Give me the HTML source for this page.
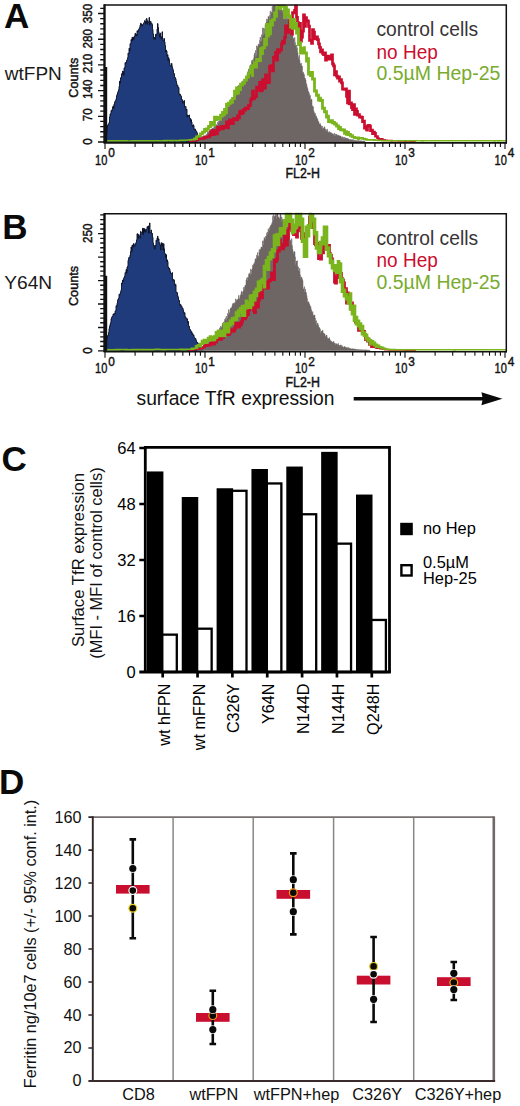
<!DOCTYPE html>
<html><head><meta charset="utf-8"><title>Figure</title>
<style>
html,body{margin:0;padding:0;background:#fff;}
body{width:520px;height:1106px;overflow:hidden;}
svg{display:block;}
text{font-family:"Liberation Sans",sans-serif;}
</style></head><body>
<svg width="520" height="1106" viewBox="0 0 520 1106">
<rect width="520" height="1106" fill="#fff"/>
<g id="panelA">
<path d="M105.5,142.0L105.5,140.9H106.0V135.3H106.5V132.4H107.0V127.5H107.5V125.1H108.0V124.8H108.5V123.8H109.0V122.3H109.5V116.9H110.0V114.0H110.5V113.7H111.0V110.6H111.5V111.1H112.0V109.4H112.5V107.1H113.0V105.9H113.5V108.8H114.0V104.0H114.5V102.3H115.0V100.9H115.5V100.6H116.0V98.6H116.5V95.8H117.0V94.1H117.5V92.6H118.0V91.2H118.5V89.8H119.0V86.4H119.5V81.2H120.0V83.3H120.5V77.8H121.0V78.0H121.5V73.8H122.0V74.4H122.5V71.1H123.0V71.4H123.5V75.4H124.0V67.9H124.5V68.0H125.0V62.6H125.5V63.0H126.0V63.2H126.5V60.3H127.0V59.7H127.5V57.7H128.0V53.0H128.5V53.5H129.0V48.2H129.5V51.0H130.0V43.6H130.5V43.5H131.0V39.5H131.5V41.0H132.0V37.2H132.5V40.1H133.0V37.1H133.5V39.5H134.0V37.5H134.5V35.9H135.0V33.3H135.5V35.8H136.0V34.3H136.5V35.9H137.0V30.7H137.5V31.9H138.0V30.9H138.5V29.5H139.0V28.5H139.5V27.6H140.0V25.1H140.5V23.3H141.0V23.8H141.5V25.2H142.0V26.4H142.5V24.6H143.0V24.3H143.5V23.1H144.0V22.4H144.5V20.7H145.0V21.5H145.5V23.9H146.0V19.2H146.5V18.5H147.0V24.5H147.5V20.8H148.0V22.5H148.5V22.1H149.0V17.5H149.5V25.4H150.0V23.8H150.5V21.3H151.0V23.6H151.5V23.3H152.0V24.4H152.5V29.4H153.0V33.8H153.5V38.7H154.0V39.2H154.5V37.3H155.0V39.4H155.5V34.4H156.0V35.6H156.5V34.1H157.0V29.0H157.5V23.6H158.0V27.4H158.5V31.7H159.0V34.1H159.5V37.4H160.0V33.1H160.5V36.4H161.0V38.9H161.5V36.8H162.0V31.8H162.5V38.1H163.0V40.9H163.5V40.4H164.0V38.6H164.5V41.9H165.0V45.5H165.5V52.0H166.0V50.2H166.5V51.2H167.0V56.1H167.5V54.8H168.0V60.6H168.5V57.7H169.0V59.7H169.5V63.2H170.0V65.7H170.5V65.5H171.0V66.1H171.5V63.4H172.0V66.7H172.5V68.5H173.0V70.2H173.5V73.8H174.0V73.7H174.5V77.3H175.0V77.6H175.5V78.7H176.0V81.2H176.5V83.5H177.0V85.9H177.5V85.5H178.0V87.6H178.5V87.5H179.0V93.8H179.5V95.2H180.0V94.4H180.5V95.6H181.0V96.2H181.5V99.0H182.0V99.8H182.5V103.4H183.0V101.4H183.5V101.4H184.0V100.6H184.5V107.4H185.0V107.3H185.5V106.4H186.0V110.2H186.5V109.2H187.0V116.9H187.5V115.1H188.0V115.7H188.5V116.0H189.0V115.0H189.5V118.6H190.0V118.3H190.5V121.7H191.0V119.7H191.5V122.0H192.0V125.3H192.5V126.7H193.0V124.8H193.5V125.5H194.0V128.8H194.5V129.8H195.0V129.1H195.5V130.3H196.0V131.3H196.5V131.8H197.0V133.2H197.5V135.7H198.0V136.1H198.5V138.0H199.0V137.4H199.5V137.9H200.0V137.9H200.5V138.8H201.0V138.8H201.5V139.2H202.0V140.3H202.5V140.8H203.0V141.1V142.0Z" fill="#1f3b7c" stroke="#0a0f22" stroke-width="0.9" stroke-linejoin="miter"/>
<path d="M197.5,142.0L197.5,140.8H198.0V140.7H198.5V140.2H199.0V139.7H199.5V139.8H200.0V139.1H200.5V138.6H201.0V139.3H201.5V137.6H202.0V136.7H202.5V136.2H203.0V136.4H203.5V136.9H204.0V136.7H204.5V136.4H205.0V136.5H205.5V135.9H206.0V134.6H206.5V134.7H207.0V133.6H207.5V132.0H208.0V132.8H208.5V131.6H209.0V130.8H209.5V132.5H210.0V130.8H210.5V129.2H211.0V129.1H211.5V131.2H212.0V128.1H212.5V128.7H213.0V128.2H213.5V127.7H214.0V127.3H214.5V125.8H215.0V125.4H215.5V125.3H216.0V124.7H216.5V125.4H217.0V125.7H217.5V122.3H218.0V123.4H218.5V121.0H219.0V120.8H219.5V120.7H220.0V120.6H220.5V119.3H221.0V116.1H221.5V120.4H222.0V117.8H222.5V116.8H223.0V117.4H223.5V114.6H224.0V112.5H224.5V113.9H225.0V112.8H225.5V110.0H226.0V111.3H226.5V109.7H227.0V106.6H227.5V109.8H228.0V106.7H228.5V103.7H229.0V105.1H229.5V103.7H230.0V104.1H230.5V99.6H231.0V102.3H231.5V101.2H232.0V99.9H232.5V98.8H233.0V99.0H233.5V97.1H234.0V95.2H234.5V92.7H235.0V94.9H235.5V94.2H236.0V92.6H236.5V91.8H237.0V92.3H237.5V86.3H238.0V90.6H238.5V85.3H239.0V89.5H239.5V90.2H240.0V91.0H240.5V86.2H241.0V87.1H241.5V85.5H242.0V81.0H242.5V85.6H243.0V83.6H243.5V83.1H244.0V80.2H244.5V80.6H245.0V79.5H245.5V80.4H246.0V77.3H246.5V82.0H247.0V73.3H247.5V72.5H248.0V71.7H248.5V69.1H249.0V72.6H249.5V69.7H250.0V64.8H250.5V66.4H251.0V67.4H251.5V60.7H252.0V62.3H252.5V59.9H253.0V63.7H253.5V58.2H254.0V54.9H254.5V53.0H255.0V56.7H255.5V50.5H256.0V55.4H256.5V45.9H257.0V47.8H257.5V46.7H258.0V44.5H258.5V44.2H259.0V44.8H259.5V40.4H260.0V37.2H260.5V42.1H261.0V41.0H261.5V34.8H262.0V35.8H262.5V27.9H263.0V35.0H263.5V28.2H264.0V28.8H264.5V34.0H265.0V24.6H265.5V26.3H266.0V22.4H266.5V19.2H267.0V19.5H267.5V21.7H268.0V16.5H268.5V17.0H269.0V18.9H269.5V15.4H270.0V11.2H270.5V16.9H271.0V12.1H271.5V14.0H272.0V6.4H272.5V12.8H273.0V5.5H273.5V5.5H274.0V5.7H274.5V5.5H275.0V6.3H275.5V5.5H276.0V7.4H276.5V9.2H277.0V5.5H277.5V5.5H278.0V5.5H278.5V8.2H279.0V8.2H279.5V5.7H280.0V5.5H280.5V7.6H281.0V10.6H281.5V6.8H282.0V12.4H282.5V10.2H283.0V10.8H283.5V9.5H284.0V15.5H284.5V13.2H285.0V10.4H285.5V17.2H286.0V15.1H286.5V20.0H287.0V18.9H287.5V18.1H288.0V21.3H288.5V20.8H289.0V21.4H289.5V25.1H290.0V28.6H290.5V28.4H291.0V29.7H291.5V30.2H292.0V34.4H292.5V35.3H293.0V38.5H293.5V38.7H294.0V44.3H294.5V37.5H295.0V42.5H295.5V45.8H296.0V48.6H296.5V45.2H297.0V47.9H297.5V52.5H298.0V56.8H298.5V58.9H299.0V55.3H299.5V60.4H300.0V64.3H300.5V63.7H301.0V63.3H301.5V65.7H302.0V66.3H302.5V73.1H303.0V72.2H303.5V73.7H304.0V74.7H304.5V78.0H305.0V78.4H305.5V80.0H306.0V83.3H306.5V84.7H307.0V87.5H307.5V88.7H308.0V92.1H308.5V91.7H309.0V93.8H309.5V95.4H310.0V95.4H310.5V100.3H311.0V99.2H311.5V99.5H312.0V105.7H312.5V106.6H313.0V106.7H313.5V110.8H314.0V112.6H314.5V114.1H315.0V113.5H315.5V116.3H316.0V115.9H316.5V117.5H317.0V118.6H317.5V119.4H318.0V122.0H318.5V121.6H319.0V124.0H319.5V124.0H320.0V123.7H320.5V125.1H321.0V126.2H321.5V127.2H322.0V126.2H322.5V128.9H323.0V128.0H323.5V129.1H324.0V126.8H324.5V127.5H325.0V130.2H325.5V129.2H326.0V130.2H326.5V131.3H327.0V129.2H327.5V131.2H328.0V132.9H328.5V132.1H329.0V131.7H329.5V132.4H330.0V132.2H330.5V133.1H331.0V133.9H331.5V132.8H332.0V133.8H332.5V133.8H333.0V134.4H333.5V134.7H334.0V133.3H334.5V135.4H335.0V135.4H335.5V134.0H336.0V134.9H336.5V134.2H337.0V135.3H337.5V136.1H338.0V135.1H338.5V135.6H339.0V135.7H339.5V136.0H340.0V136.1H340.5V136.1H341.0V137.4H341.5V137.0H342.0V136.8H342.5V138.2H343.0V137.3H343.5V138.4H344.0V137.2H344.5V138.9H345.0V138.0H345.5V137.9H346.0V138.7H346.5V138.0H347.0V138.3H347.5V139.0H348.0V138.8H348.5V139.3H349.0V139.4H349.5V139.5H350.0V139.6H350.5V139.8H351.0V139.7H351.5V140.1H352.0V140.2H352.5V139.5H353.0V139.7H353.5V140.6H354.0V140.2H354.5V140.4H355.0V140.5H355.5V140.6H356.0V141.0H356.5V140.5H357.0V140.7H357.5V140.7H358.0V140.6H358.5V140.7H359.0V140.8H359.5V140.9H360.0V141.0H360.5V140.7H361.0V140.8H361.5V141.2H362.0V141.0H362.5V141.2H363.0V141.1H363.5V141.1H364.0V141.4H364.5V141.1H365.0V141.2V142.0Z" fill="#6d6664" stroke="#6d6664" stroke-width="0.5"/>
<path d="M189.15,140.6h2.70v1.3h-2.70zM190.15,140.4h2.70v1.6h-2.70zM191.15,140.2h2.70v1.6h-2.70zM192.15,140.2h2.70v1.5h-2.70zM193.15,140.2h2.70v1.4h-2.70zM194.15,139.8h2.70v1.8h-2.70zM195.15,139.5h2.70v1.8h-2.70zM196.15,138.9h2.70v2.1h-2.70zM197.15,138.3h2.70v2.2h-2.70zM198.15,137.8h2.70v2.2h-2.70zM199.15,137.8h2.70v1.7h-2.70zM200.15,137.3h2.70v2.2h-2.70zM201.15,137.3h2.70v2.4h-2.70zM202.15,137.5h2.70v2.2h-2.70zM203.15,135.4h2.70v4.0h-2.70zM204.15,135.4h2.70v3.4h-2.70zM205.15,135.4h2.70v3.4h-2.70zM206.15,135.4h2.70v2.9h-2.70zM207.15,136.2h2.70v2.0h-2.70zM208.15,134.3h2.70v4.0h-2.70zM209.15,130.2h2.70v6.6h-2.70zM210.15,130.2h2.70v5.6h-2.70zM211.15,129.1h2.70v6.7h-2.70zM212.15,129.1h2.70v7.0h-2.70zM213.15,129.2h2.70v6.9h-2.70zM214.15,129.2h2.70v3.0h-2.70zM215.15,129.5h2.70v5.7h-2.70zM216.15,125.8h2.70v9.4h-2.70zM217.15,125.8h2.70v5.4h-2.70zM218.15,125.9h2.70v5.3h-2.70zM219.15,125.9h2.70v3.3h-2.70zM220.15,125.3h2.70v3.9h-2.70zM221.15,125.3h2.70v5.0h-2.70zM222.15,125.1h2.70v5.2h-2.70zM223.15,125.1h2.70v3.5h-2.70zM224.15,125.8h2.70v2.9h-2.70zM225.15,120.6h2.70v8.1h-2.70zM226.15,120.6h2.70v8.5h-2.70zM227.15,122.2h2.70v7.0h-2.70zM228.15,118.4h2.70v6.6h-2.70zM229.15,118.4h2.70v4.2h-2.70zM230.15,119.7h2.70v5.4h-2.70zM231.15,121.9h2.70v3.2h-2.70zM232.15,117.3h2.70v7.4h-2.70zM233.15,117.3h2.70v3.6h-2.70zM234.15,117.5h2.70v3.5h-2.70zM235.15,117.5h2.70v3.8h-2.70zM236.15,114.5h2.70v6.7h-2.70zM237.15,114.5h2.70v4.7h-2.70zM238.15,110.6h2.70v8.6h-2.70zM239.15,109.8h2.70v3.6h-2.70zM240.15,109.8h2.70v5.3h-2.70zM241.15,111.3h2.70v3.8h-2.70zM242.15,108.0h2.70v6.1h-2.70zM243.15,108.0h2.70v3.5h-2.70zM244.15,106.4h2.70v5.0h-2.70zM245.15,106.4h2.70v3.4h-2.70zM246.15,107.0h2.70v2.9h-2.70zM247.15,104.1h2.70v5.8h-2.70zM248.15,104.0h2.70v2.9h-2.70zM249.15,98.8h2.70v8.0h-2.70zM250.15,96.9h2.70v4.7h-2.70zM251.15,89.7h2.70v10.1h-2.70zM252.15,89.7h2.70v10.5h-2.70zM253.15,94.8h2.70v5.3h-2.70zM254.15,94.8h2.70v3.2h-2.70zM255.15,85.7h2.70v12.4h-2.70zM256.15,85.7h2.70v6.1h-2.70zM257.15,87.2h2.70v4.6h-2.70zM258.15,81.1h2.70v8.9h-2.70zM259.15,81.1h2.70v11.1h-2.70zM260.15,89.1h2.70v3.1h-2.70zM261.15,78.2h2.70v13.6h-2.70zM262.15,78.2h2.70v7.8h-2.70zM263.15,83.2h2.70v6.3h-2.70zM264.15,73.5h2.70v16.0h-2.70zM265.15,73.5h2.70v9.7h-2.70zM266.15,80.5h2.70v3.5h-2.70zM267.15,80.7h2.70v3.3h-2.70zM268.15,65.3h2.70v18.2h-2.70zM269.15,64.3h2.70v3.8h-2.70zM270.15,64.3h2.70v6.0h-2.70zM271.15,67.6h2.70v4.7h-2.70zM272.15,56.0h2.70v16.3h-2.70zM273.15,55.5h2.70v3.3h-2.70zM274.15,51.1h2.70v7.2h-2.70zM275.15,51.1h2.70v10.3h-2.70zM276.15,48.2h2.70v13.2h-2.70zM277.15,48.2h2.70v5.6h-2.70zM278.15,48.8h2.70v5.0h-2.70zM279.15,48.8h2.70v2.8h-2.70zM280.15,42.5h2.70v9.0h-2.70zM281.15,39.7h2.70v5.6h-2.70zM282.15,39.7h2.70v4.7h-2.70zM283.15,35.9h2.70v8.5h-2.70zM284.15,24.6h2.70v14.1h-2.70zM285.15,24.6h2.70v4.0h-2.70zM286.15,25.8h2.70v7.9h-2.70zM287.15,24.2h2.70v9.5h-2.70zM288.15,18.5h2.70v8.5h-2.70zM289.15,18.5h2.70v3.0h-2.70zM290.15,18.7h2.70v16.9h-2.70zM291.15,11.2h2.70v24.4h-2.70zM292.15,11.2h2.70v3.0h-2.70zM293.15,9.1h2.70v5.2h-2.70zM294.15,4.8h2.70v7.1h-2.70zM295.15,4.8h2.70v13.9h-2.70zM296.15,15.9h2.70v8.1h-2.70zM297.15,21.2h2.70v9.0h-2.70zM298.15,22.1h2.70v8.0h-2.70zM299.15,22.1h2.70v20.4h-2.70zM300.15,35.7h2.70v6.8h-2.70zM301.15,29.8h2.70v8.7h-2.70zM302.15,13.5h2.70v19.1h-2.70zM303.15,13.5h2.70v14.2h-2.70zM304.15,16.3h2.70v11.4h-2.70zM305.15,16.3h2.70v5.7h-2.70zM306.15,19.2h2.70v3.4h-2.70zM307.15,19.8h2.70v7.9h-2.70zM308.15,24.8h2.70v16.9h-2.70zM309.15,38.7h2.70v3.0h-2.70zM310.15,38.7h2.70v6.0h-2.70zM311.15,28.2h2.70v16.6h-2.70zM312.15,28.2h2.70v5.3h-2.70zM313.15,30.7h2.70v9.4h-2.70zM314.15,36.4h2.70v3.8h-2.70zM315.15,35.5h2.70v3.6h-2.70zM316.15,35.5h2.70v5.5h-2.70zM317.15,38.2h2.70v7.1h-2.70zM318.15,42.5h2.70v6.2h-2.70zM319.15,45.9h2.70v7.4h-2.70zM320.15,48.4h2.70v4.9h-2.70zM321.15,48.4h2.70v6.3h-2.70zM322.15,51.9h2.70v4.0h-2.70zM323.15,51.4h2.70v4.5h-2.70zM324.15,51.4h2.70v10.0h-2.70zM325.15,57.7h2.70v3.7h-2.70zM326.15,54.8h2.70v5.7h-2.70zM327.15,54.8h2.70v3.9h-2.70zM328.15,55.9h2.70v4.5h-2.70zM329.15,55.3h2.70v5.1h-2.70zM330.15,53.6h2.70v4.5h-2.70zM331.15,53.6h2.70v11.7h-2.70zM332.15,62.5h2.70v4.8h-2.70zM333.15,64.5h2.70v11.8h-2.70zM334.15,70.2h2.70v6.1h-2.70zM335.15,70.2h2.70v7.3h-2.70zM336.15,74.7h2.70v4.8h-2.70zM337.15,75.6h2.70v3.9h-2.70zM338.15,75.6h2.70v7.0h-2.70zM339.15,78.2h2.70v4.4h-2.70zM340.15,78.2h2.70v6.0h-2.70zM341.15,81.4h2.70v9.2h-2.70zM342.15,87.8h2.70v2.8h-2.70zM343.15,87.8h2.70v2.9h-2.70zM344.15,87.5h2.70v3.3h-2.70zM345.15,87.5h2.70v10.3h-2.70zM346.15,94.9h2.70v9.4h-2.70zM347.15,89.8h2.70v14.6h-2.70zM348.15,89.8h2.70v15.4h-2.70zM349.15,101.6h2.70v3.5h-2.70zM350.15,101.6h2.70v7.5h-2.70zM351.15,106.3h2.70v4.6h-2.70zM352.15,103.3h2.70v7.6h-2.70zM353.15,103.3h2.70v12.4h-2.70zM354.15,107.6h2.70v8.1h-2.70zM355.15,107.6h2.70v5.2h-2.70zM356.15,110.0h2.70v6.6h-2.70zM357.15,113.3h2.70v3.3h-2.70zM358.15,113.3h2.70v5.1h-2.70zM359.15,115.4h2.70v3.0h-2.70zM360.15,115.4h2.70v3.4h-2.70zM361.15,116.0h2.70v7.1h-2.70zM362.15,119.7h2.70v3.4h-2.70zM363.15,119.7h2.70v9.7h-2.70zM364.15,125.3h2.70v4.1h-2.70zM365.15,125.3h2.70v6.0h-2.70zM366.15,124.5h2.70v6.9h-2.70zM367.15,124.0h2.70v3.2h-2.70zM368.15,124.0h2.70v3.6h-2.70zM369.15,124.8h2.70v7.1h-2.70zM370.15,128.7h2.70v3.2h-2.70zM371.15,128.7h2.70v6.4h-2.70zM372.15,130.7h2.70v4.3h-2.70zM373.15,130.7h2.70v3.9h-2.70zM374.15,132.0h2.70v5.5h-2.70zM375.15,135.2h2.70v2.1h-2.70zM376.15,135.2h2.70v4.0h-2.70zM377.15,137.3h2.70v2.5h-2.70zM378.15,138.0h2.70v2.0h-2.70zM379.15,137.9h2.70v2.2h-2.70zM380.15,137.9h2.70v2.1h-2.70zM381.15,138.3h2.70v3.0h-2.70zM382.15,139.1h2.70v2.2h-2.70zM383.15,139.1h2.70v1.9h-2.70zM384.15,139.4h2.70v1.6h-2.70zM385.15,139.6h2.70v1.6h-2.70zM386.15,139.8h2.70v1.5h-2.70zM387.15,139.9h2.70v1.4h-2.70zM388.15,139.9h2.70v1.4h-2.70zM389.15,139.7h2.70v1.6h-2.70zM390.15,139.7h2.70v2.0h-2.70zM391.15,140.0h2.70v1.6h-2.70zM392.15,139.9h2.70v1.5h-2.70zM393.15,139.9h2.70v1.7h-2.70zM394.15,140.2h2.70v1.4h-2.70zM395.15,140.0h2.70v1.6h-2.70zM396.15,140.0h2.70v1.5h-2.70zM397.15,140.1h2.70v1.6h-2.70zM398.15,140.3h2.70v1.4h-2.70zM399.15,140.3h2.70v1.4h-2.70zM400.15,140.3h2.70v1.4h-2.70zM401.15,140.3h2.70v1.4h-2.70zM402.15,140.3h2.70v1.4h-2.70zM403.15,140.3h2.70v1.5h-2.70zM404.15,140.4h2.70v1.5h-2.70zM405.15,140.4h2.70v1.4h-2.70zM406.15,140.4h2.70v1.4h-2.70zM407.15,140.5h2.70v1.3h-2.70zM408.15,140.4h2.70v1.4h-2.70zM409.15,140.4h2.70v1.6h-2.70zM410.15,140.6h2.70v1.4h-2.70zM411.15,140.6h2.70v1.4h-2.70zM412.15,140.7h2.70v1.3h-2.70zM413.15,140.6h2.70v1.4h-2.70z" fill="#cb0e2f"/>
<path d="M105.10,140.2h2.80v1.4h-2.80zM105.10,140.0h2.80v1.5h-2.80zM107.10,140.0h2.80v1.4h-2.80zM107.10,140.0h2.80v1.5h-2.80zM109.10,140.1h2.80v1.4h-2.80zM109.10,140.1h2.80v1.4h-2.80zM111.10,140.0h2.80v1.5h-2.80zM111.10,140.0h2.80v1.5h-2.80zM113.10,140.1h2.80v1.5h-2.80zM113.10,140.0h2.80v1.6h-2.80zM115.10,140.0h2.80v1.6h-2.80zM115.10,140.1h2.80v1.4h-2.80zM117.10,140.1h2.80v1.4h-2.80zM117.10,140.1h2.80v1.4h-2.80zM119.10,140.1h2.80v1.5h-2.80zM119.10,140.1h2.80v1.4h-2.80zM121.10,140.1h2.80v1.5h-2.80zM121.10,140.1h2.80v1.5h-2.80zM123.10,140.1h2.80v1.4h-2.80zM123.10,140.0h2.80v1.5h-2.80zM125.10,140.0h2.80v1.5h-2.80zM125.10,140.1h2.80v1.5h-2.80zM127.10,140.2h2.80v1.4h-2.80zM127.10,140.2h2.80v1.4h-2.80zM129.10,140.2h2.80v1.4h-2.80zM129.10,140.2h2.80v1.4h-2.80zM131.10,140.1h2.80v1.4h-2.80zM131.10,140.1h2.80v1.4h-2.80zM133.10,140.1h2.80v1.5h-2.80zM133.10,140.1h2.80v1.5h-2.80zM135.10,140.1h2.80v1.5h-2.80zM135.10,140.0h2.80v1.5h-2.80zM137.10,140.0h2.80v1.4h-2.80zM137.10,140.0h2.80v1.5h-2.80zM139.10,140.1h2.80v1.4h-2.80zM139.10,140.0h2.80v1.4h-2.80zM141.10,140.0h2.80v1.4h-2.80zM141.10,140.1h2.80v1.4h-2.80zM143.10,140.1h2.80v1.4h-2.80zM143.10,140.1h2.80v1.4h-2.80zM145.10,140.1h2.80v1.5h-2.80zM145.10,140.1h2.80v1.5h-2.80zM147.10,140.1h2.80v1.4h-2.80zM147.10,140.1h2.80v1.4h-2.80zM149.10,140.1h2.80v1.5h-2.80zM149.10,140.1h2.80v1.5h-2.80zM151.10,140.1h2.80v1.4h-2.80zM151.10,140.1h2.80v1.4h-2.80zM153.10,140.0h2.80v1.4h-2.80zM153.10,140.0h2.80v1.4h-2.80zM155.10,140.0h2.80v1.4h-2.80zM155.10,140.0h2.80v1.4h-2.80zM157.10,140.0h2.80v1.4h-2.80zM157.10,140.0h2.80v1.4h-2.80zM159.10,140.0h2.80v1.4h-2.80zM159.10,139.9h2.80v1.5h-2.80zM161.10,139.9h2.80v1.5h-2.80zM161.10,139.9h2.80v1.5h-2.80zM163.10,139.9h2.80v1.5h-2.80zM163.10,139.8h2.80v1.5h-2.80zM165.10,139.8h2.80v1.5h-2.80zM165.10,139.9h2.80v1.5h-2.80zM167.10,139.9h2.80v1.4h-2.80zM167.10,139.8h2.80v1.5h-2.80zM169.10,139.8h2.80v1.5h-2.80zM169.10,139.9h2.80v1.5h-2.80zM171.10,139.7h2.80v1.8h-2.80zM171.10,139.7h2.80v1.6h-2.80zM173.10,139.9h2.80v1.4h-2.80zM173.10,139.8h2.80v1.5h-2.80zM175.10,139.7h2.80v1.5h-2.80zM175.10,139.7h2.80v1.7h-2.80zM177.10,139.8h2.80v1.6h-2.80zM177.10,139.8h2.80v1.5h-2.80zM179.10,139.7h2.80v1.6h-2.80zM179.10,139.6h2.80v1.5h-2.80zM181.10,139.6h2.80v1.6h-2.80zM181.10,139.7h2.80v1.5h-2.80zM183.10,139.6h2.80v1.6h-2.80zM183.10,139.5h2.80v1.5h-2.80zM185.10,139.5h2.80v1.5h-2.80zM185.10,139.4h2.80v1.7h-2.80zM187.10,139.2h2.80v1.6h-2.80zM187.10,139.2h2.80v1.6h-2.80zM189.10,139.2h2.80v1.5h-2.80zM189.10,139.0h2.80v1.7h-2.80zM191.10,138.7h2.80v1.9h-2.80zM191.10,138.7h2.80v1.7h-2.80zM193.10,138.2h2.80v2.2h-2.80zM193.10,137.5h2.80v2.4h-2.80zM195.10,137.5h2.80v2.5h-2.80zM195.10,135.6h2.80v4.5h-2.80zM197.10,135.6h2.80v2.1h-2.80zM197.10,134.8h2.80v2.9h-2.80zM199.10,133.5h2.80v3.6h-2.80zM199.10,132.5h2.80v3.3h-2.80zM201.10,132.0h2.80v3.0h-2.80zM201.10,130.8h2.80v3.8h-2.80zM203.10,128.3h2.80v5.3h-2.80zM203.10,128.1h2.80v3.2h-2.80zM205.10,128.1h2.80v4.0h-2.80zM205.10,127.5h2.80v4.6h-2.80zM207.10,125.1h2.80v5.3h-2.80zM207.10,125.0h2.80v3.1h-2.80zM209.10,122.6h2.80v5.4h-2.80zM209.10,121.1h2.80v4.5h-2.80zM211.10,121.1h2.80v3.1h-2.80zM211.10,121.2h2.80v5.3h-2.80zM213.10,119.0h2.80v7.5h-2.80zM213.10,115.8h2.80v6.2h-2.80zM215.10,115.8h2.80v5.1h-2.80zM215.10,116.0h2.80v4.9h-2.80zM217.10,116.0h2.80v4.5h-2.80zM217.10,117.5h2.80v3.0h-2.80zM219.10,113.8h2.80v6.7h-2.80zM219.10,113.7h2.80v3.1h-2.80zM221.10,110.9h2.80v5.8h-2.80zM221.10,110.9h2.80v5.4h-2.80zM223.10,108.0h2.80v8.3h-2.80zM223.10,107.9h2.80v3.1h-2.80zM225.10,107.9h2.80v6.3h-2.80zM225.10,102.8h2.80v11.3h-2.80zM227.10,102.8h2.80v3.8h-2.80zM227.10,101.7h2.80v5.0h-2.80zM229.10,101.3h2.80v3.4h-2.80zM229.10,99.8h2.80v4.5h-2.80zM231.10,99.8h2.80v3.9h-2.80zM231.10,96.9h2.80v6.8h-2.80zM233.10,95.7h2.80v4.2h-2.80zM233.10,89.8h2.80v8.9h-2.80zM235.10,89.8h2.80v5.5h-2.80zM235.10,86.5h2.80v8.8h-2.80zM237.10,86.5h2.80v7.9h-2.80zM237.10,86.6h2.80v7.7h-2.80zM239.10,86.6h2.80v4.2h-2.80zM239.10,82.8h2.80v8.1h-2.80zM241.10,82.8h2.80v3.6h-2.80zM241.10,81.7h2.80v4.7h-2.80zM243.10,81.7h2.80v3.0h-2.80zM243.10,78.7h2.80v6.0h-2.80zM245.10,76.1h2.80v5.5h-2.80zM245.10,75.5h2.80v3.6h-2.80zM247.10,73.5h2.80v5.0h-2.80zM247.10,71.5h2.80v5.0h-2.80zM249.10,69.1h2.80v5.5h-2.80zM249.10,66.3h2.80v5.8h-2.80zM251.10,66.3h2.80v10.8h-2.80zM251.10,64.3h2.80v12.8h-2.80zM253.10,61.2h2.80v6.1h-2.80zM253.10,61.2h2.80v7.4h-2.80zM255.10,61.4h2.80v7.1h-2.80zM255.10,58.1h2.80v6.3h-2.80zM257.10,58.1h2.80v4.2h-2.80zM257.10,58.9h2.80v3.4h-2.80zM259.10,47.2h2.80v14.7h-2.80zM259.10,47.2h2.80v7.9h-2.80zM261.10,46.7h2.80v8.3h-2.80zM261.10,46.3h2.80v3.5h-2.80zM263.10,38.0h2.80v11.3h-2.80zM263.10,38.0h2.80v8.3h-2.80zM265.10,38.9h2.80v7.3h-2.80zM265.10,22.9h2.80v19.0h-2.80zM267.10,22.9h2.80v14.5h-2.80zM267.10,32.3h2.80v5.2h-2.80zM269.10,19.6h2.80v15.6h-2.80zM269.10,19.6h2.80v6.9h-2.80zM271.10,19.1h2.80v7.4h-2.80zM271.10,18.2h2.80v4.0h-2.80zM273.10,11.5h2.80v9.7h-2.80zM273.10,11.5h2.80v6.4h-2.80zM275.10,12.6h2.80v5.2h-2.80zM275.10,6.5h2.80v9.1h-2.80zM277.10,5.2h2.80v4.4h-2.80zM277.10,4.7h2.80v3.5h-2.80zM279.10,4.7h2.80v5.5h-2.80zM279.10,4.7h2.80v5.5h-2.80zM281.10,4.7h2.80v3.0h-2.80zM281.10,4.7h2.80v3.0h-2.80zM283.10,4.7h2.80v14.2h-2.80zM283.10,6.1h2.80v12.8h-2.80zM285.10,6.1h2.80v10.1h-2.80zM285.10,8.4h2.80v7.8h-2.80zM287.10,8.4h2.80v5.0h-2.80zM287.10,10.4h2.80v8.1h-2.80zM289.10,14.4h2.80v4.0h-2.80zM289.10,14.4h2.80v14.1h-2.80zM291.10,17.9h2.80v10.7h-2.80zM291.10,17.9h2.80v11.9h-2.80zM293.10,18.1h2.80v11.7h-2.80zM293.10,18.1h2.80v6.9h-2.80zM295.10,22.0h2.80v12.4h-2.80zM295.10,27.6h2.80v6.8h-2.80zM297.10,27.6h2.80v18.3h-2.80zM297.10,41.2h2.80v4.7h-2.80zM299.10,41.2h2.80v4.6h-2.80zM299.10,42.8h2.80v11.7h-2.80zM301.10,46.8h2.80v7.7h-2.80zM301.10,46.8h2.80v5.3h-2.80zM303.10,46.2h2.80v5.9h-2.80zM303.10,46.2h2.80v8.2h-2.80zM305.10,51.4h2.80v11.2h-2.80zM305.10,57.2h2.80v5.4h-2.80zM307.10,57.2h2.80v14.6h-2.80zM307.10,68.8h2.80v6.6h-2.80zM309.10,72.4h2.80v4.4h-2.80zM309.10,71.0h2.80v5.9h-2.80zM311.10,71.0h2.80v8.2h-2.80zM311.10,76.2h2.80v4.3h-2.80zM313.10,77.4h2.80v11.2h-2.80zM313.10,85.6h2.80v6.8h-2.80zM315.10,89.4h2.80v3.2h-2.80zM315.10,89.6h2.80v7.1h-2.80zM317.10,93.7h2.80v5.0h-2.80zM317.10,95.7h2.80v5.8h-2.80zM319.10,96.7h2.80v4.7h-2.80zM319.10,96.7h2.80v5.3h-2.80zM321.10,99.0h2.80v9.2h-2.80zM321.10,105.2h2.80v4.6h-2.80zM323.10,106.8h2.80v5.1h-2.80zM323.10,108.9h2.80v4.3h-2.80zM325.10,110.2h2.80v6.5h-2.80zM325.10,113.8h2.80v4.6h-2.80zM327.10,114.7h2.80v3.6h-2.80zM327.10,114.7h2.80v8.3h-2.80zM329.10,120.0h2.80v3.2h-2.80zM329.10,119.3h2.80v3.9h-2.80zM331.10,119.3h2.80v4.5h-2.80zM331.10,120.8h2.80v3.4h-2.80zM333.10,121.1h2.80v3.1h-2.80zM333.10,121.1h2.80v4.3h-2.80zM335.10,122.4h2.80v3.3h-2.80zM335.10,122.7h2.80v4.9h-2.80zM337.10,124.6h2.80v5.1h-2.80zM337.10,126.7h2.80v3.3h-2.80zM339.10,126.0h2.80v4.0h-2.80zM339.10,126.0h2.80v5.2h-2.80zM341.10,128.3h2.80v3.2h-2.80zM341.10,128.4h2.80v3.2h-2.80zM343.10,128.6h2.80v6.2h-2.80zM343.10,130.2h2.80v4.5h-2.80zM345.10,130.2h2.80v5.5h-2.80zM345.10,131.0h2.80v4.6h-2.80zM347.10,131.0h2.80v5.0h-2.80zM347.10,133.0h2.80v2.9h-2.80zM349.10,133.0h2.80v4.3h-2.80zM349.10,134.9h2.80v2.2h-2.80zM351.10,134.2h2.80v2.8h-2.80zM351.10,134.2h2.80v3.8h-2.80zM353.10,136.0h2.80v2.8h-2.80zM353.10,136.9h2.80v2.1h-2.80zM355.10,137.2h2.80v2.1h-2.80zM355.10,136.5h2.80v2.8h-2.80zM357.10,136.5h2.80v3.5h-2.80zM357.10,136.9h2.80v3.1h-2.80zM359.10,136.9h2.80v2.3h-2.80zM359.10,137.1h2.80v2.1h-2.80zM361.10,137.1h2.80v2.6h-2.80zM361.10,137.8h2.80v1.8h-2.80zM363.10,137.8h2.80v2.4h-2.80zM363.10,138.3h2.80v1.9h-2.80zM365.10,138.3h2.80v2.5h-2.80zM365.10,139.1h2.80v1.7h-2.80zM367.10,139.1h2.80v1.7h-2.80zM367.10,139.3h2.80v1.5h-2.80zM369.10,139.1h2.80v1.6h-2.80zM369.10,139.1h2.80v1.6h-2.80zM371.10,139.3h2.80v1.5h-2.80zM371.10,139.0h2.80v1.8h-2.80zM373.10,139.0h2.80v1.7h-2.80zM373.10,139.2h2.80v1.7h-2.80zM375.10,139.4h2.80v1.7h-2.80zM375.10,139.4h2.80v1.7h-2.80zM377.10,139.4h2.80v1.7h-2.80zM377.10,139.7h2.80v1.5h-2.80zM379.10,139.7h2.80v1.6h-2.80zM379.10,139.9h2.80v1.4h-2.80zM381.10,139.7h2.80v1.6h-2.80zM381.10,139.7h2.80v1.4h-2.80zM383.10,139.7h2.80v1.7h-2.80zM383.10,140.0h2.80v1.4h-2.80zM385.10,139.9h2.80v1.5h-2.80zM385.10,139.9h2.80v1.5h-2.80zM387.10,139.9h2.80v1.5h-2.80zM387.10,139.9h2.80v1.5h-2.80zM389.10,139.9h2.80v1.5h-2.80zM389.10,139.9h2.80v1.5h-2.80zM391.10,140.0h2.80v1.5h-2.80zM391.10,140.1h2.80v1.4h-2.80zM393.10,140.1h2.80v1.4h-2.80zM393.10,140.0h2.80v1.5h-2.80zM395.10,140.0h2.80v1.5h-2.80zM395.10,140.0h2.80v1.5h-2.80zM397.10,140.0h2.80v1.4h-2.80zM397.10,140.1h2.80v1.4h-2.80zM399.10,140.0h2.80v1.5h-2.80zM399.10,140.0h2.80v1.5h-2.80zM401.10,140.0h2.80v1.5h-2.80zM401.10,140.0h2.80v1.6h-2.80zM403.10,140.2h2.80v1.4h-2.80zM403.10,140.1h2.80v1.4h-2.80zM405.10,140.1h2.80v1.5h-2.80zM405.10,140.1h2.80v1.4h-2.80zM407.10,140.1h2.80v1.4h-2.80zM407.10,140.0h2.80v1.5h-2.80zM409.10,140.0h2.80v1.5h-2.80zM409.10,140.0h2.80v1.4h-2.80zM411.10,140.0h2.80v1.5h-2.80zM411.10,140.2h2.80v1.4h-2.80zM413.10,140.2h2.80v1.4h-2.80zM413.10,140.0h2.80v1.6h-2.80zM415.10,140.0h2.80v1.4h-2.80zM415.10,140.0h2.80v1.6h-2.80zM417.10,140.2h2.80v1.4h-2.80zM417.10,140.2h2.80v1.4h-2.80zM419.10,140.2h2.80v1.4h-2.80zM419.10,140.1h2.80v1.4h-2.80zM421.10,140.1h2.80v1.5h-2.80zM421.10,140.2h2.80v1.5h-2.80zM423.10,140.2h2.80v1.4h-2.80zM423.10,140.0h2.80v1.5h-2.80zM425.10,140.0h2.80v1.5h-2.80zM425.10,140.1h2.80v1.5h-2.80zM427.10,140.2h2.80v1.4h-2.80zM427.10,140.2h2.80v1.4h-2.80zM429.10,140.1h2.80v1.5h-2.80zM429.10,140.1h2.80v1.4h-2.80zM431.10,140.1h2.80v1.5h-2.80zM431.10,140.1h2.80v1.4h-2.80zM433.10,140.1h2.80v1.5h-2.80zM433.10,140.2h2.80v1.4h-2.80zM435.10,140.1h2.80v1.5h-2.80zM435.10,140.1h2.80v1.4h-2.80zM437.10,140.1h2.80v1.4h-2.80zM437.10,140.1h2.80v1.4h-2.80zM439.10,140.1h2.80v1.4h-2.80zM439.10,140.1h2.80v1.4h-2.80zM441.10,140.1h2.80v1.4h-2.80zM441.10,140.1h2.80v1.4h-2.80zM443.10,140.1h2.80v1.4h-2.80zM443.10,140.0h2.80v1.5h-2.80zM445.10,140.0h2.80v1.5h-2.80zM445.10,140.1h2.80v1.5h-2.80zM447.10,140.0h2.80v1.6h-2.80zM447.10,140.0h2.80v1.4h-2.80zM449.10,140.1h2.80v1.4h-2.80zM449.10,140.1h2.80v1.4h-2.80zM451.10,140.1h2.80v1.5h-2.80zM451.10,140.0h2.80v1.4h-2.80zM453.10,140.0h2.80v1.6h-2.80zM453.10,139.9h2.80v1.7h-2.80zM455.10,139.9h2.80v1.5h-2.80zM455.10,140.0h2.80v1.4h-2.80zM457.10,139.9h2.80v1.5h-2.80zM457.10,139.9h2.80v1.6h-2.80zM459.10,140.2h2.80v1.4h-2.80zM459.10,140.0h2.80v1.6h-2.80zM461.10,140.0h2.80v1.5h-2.80zM461.10,140.1h2.80v1.4h-2.80zM463.10,140.1h2.80v1.4h-2.80zM463.10,140.1h2.80v1.4h-2.80zM465.10,140.1h2.80v1.4h-2.80zM465.10,140.1h2.80v1.4h-2.80zM467.10,140.1h2.80v1.4h-2.80zM467.10,140.1h2.80v1.4h-2.80zM469.10,140.1h2.80v1.5h-2.80zM469.10,140.1h2.80v1.5h-2.80zM471.10,140.1h2.80v1.4h-2.80zM471.10,140.1h2.80v1.4h-2.80zM473.10,140.1h2.80v1.4h-2.80zM473.10,140.2h2.80v1.4h-2.80zM475.10,140.1h2.80v1.5h-2.80zM475.10,140.1h2.80v1.4h-2.80zM477.10,140.1h2.80v1.4h-2.80zM477.10,140.1h2.80v1.5h-2.80zM479.10,140.1h2.80v1.5h-2.80zM479.10,140.1h2.80v1.5h-2.80zM481.10,140.1h2.80v1.5h-2.80zM481.10,140.1h2.80v1.5h-2.80zM483.10,140.1h2.80v1.5h-2.80zM483.10,140.1h2.80v1.5h-2.80zM485.10,140.1h2.80v1.4h-2.80zM485.10,140.1h2.80v1.4h-2.80zM487.10,140.0h2.80v1.5h-2.80zM487.10,139.9h2.80v1.5h-2.80zM489.10,139.9h2.80v1.6h-2.80zM489.10,140.1h2.80v1.4h-2.80zM491.10,140.1h2.80v1.4h-2.80zM491.10,140.1h2.80v1.5h-2.80zM493.10,140.2h2.80v1.5h-2.80zM493.10,140.0h2.80v1.5h-2.80zM495.10,140.0h2.80v1.5h-2.80zM495.10,140.0h2.80v1.5h-2.80zM497.10,140.0h2.80v1.4h-2.80zM497.10,140.0h2.80v1.7h-2.80zM499.10,140.0h2.80v1.6h-2.80zM499.10,140.0h2.80v1.5h-2.80zM501.10,140.0h2.80v1.5h-2.80zM501.10,140.1h2.80v1.4h-2.80zM503.10,140.1h2.80v1.4h-2.80zM503.10,140.1h2.80v1.4h-2.80z" fill="#7ab51d"/>
<rect x="104" y="67.0" width="3.2" height="75.0" fill="#111"/>
<path d="M104.5,143V5H506.3V143.5" fill="none" stroke="#111" stroke-width="1.5"/>
<line x1="104.5" y1="4.3" x2="104.5" y2="142.8" stroke="#111" stroke-width="2.2"/>
<line x1="103.5" y1="142.9" x2="507.0" y2="142.9" stroke="#111" stroke-width="1.6"/>
<path d="M98.0,142.00H104.5M98.0,116.30H104.5M98.0,90.60H104.5M98.0,64.90H104.5M98.0,39.20H104.5M98.0,13.50H104.5M100.2,136.86H104.5M100.2,131.72H104.5M100.2,126.58H104.5M100.2,121.44H104.5M100.2,111.16H104.5M100.2,106.02H104.5M100.2,100.88H104.5M100.2,95.74H104.5M100.2,85.46H104.5M100.2,80.32H104.5M100.2,75.18H104.5M100.2,70.04H104.5M100.2,59.76H104.5M100.2,54.62H104.5M100.2,49.48H104.5M100.2,44.34H104.5M100.2,34.06H104.5M100.2,28.92H104.5M100.2,23.78H104.5M100.2,18.64H104.5M100.2,8.36H104.5" stroke="#111" stroke-width="1.35" fill="none"/>
<path d="M105.00,143v6M135.10,143v4M152.71,143v4M165.21,143v4M174.90,143v4M182.82,143v4M189.51,143v4M195.31,143v4M200.42,143v4M205.00,143v6M235.10,143v4M252.71,143v4M265.21,143v4M274.90,143v4M282.82,143v4M289.51,143v4M295.31,143v4M300.42,143v4M305.00,143v6M335.10,143v4M352.71,143v4M365.21,143v4M374.90,143v4M382.82,143v4M389.51,143v4M395.31,143v4M400.42,143v4M405.00,143v6M435.10,143v4M452.71,143v4M465.21,143v4M474.90,143v4M482.82,143v4M489.51,143v4M495.31,143v4M500.42,143v4M505.00,143v6" stroke="#111" stroke-width="1.1" fill="none"/>
<text x="95.1" y="164.6" font-size="14" textLength="12.3" lengthAdjust="spacingAndGlyphs" fill="#111" stroke="#111" stroke-width="0.4">10</text>
<text x="108.2" y="157.2" font-size="12" textLength="6.6" lengthAdjust="spacingAndGlyphs" fill="#111" stroke="#111" stroke-width="0.4">0</text>
<text x="195.1" y="164.6" font-size="14" textLength="12.3" lengthAdjust="spacingAndGlyphs" fill="#111" stroke="#111" stroke-width="0.4">10</text>
<text x="208.2" y="157.2" font-size="12" textLength="6.6" lengthAdjust="spacingAndGlyphs" fill="#111" stroke="#111" stroke-width="0.4">1</text>
<text x="295.1" y="164.6" font-size="14" textLength="12.3" lengthAdjust="spacingAndGlyphs" fill="#111" stroke="#111" stroke-width="0.4">10</text>
<text x="308.2" y="157.2" font-size="12" textLength="6.6" lengthAdjust="spacingAndGlyphs" fill="#111" stroke="#111" stroke-width="0.4">2</text>
<text x="395.1" y="164.6" font-size="14" textLength="12.3" lengthAdjust="spacingAndGlyphs" fill="#111" stroke="#111" stroke-width="0.4">10</text>
<text x="408.2" y="157.2" font-size="12" textLength="6.6" lengthAdjust="spacingAndGlyphs" fill="#111" stroke="#111" stroke-width="0.4">3</text>
<text x="494.6" y="164.6" font-size="14" textLength="12.3" lengthAdjust="spacingAndGlyphs" fill="#111" stroke="#111" stroke-width="0.4">10</text>
<text x="507.7" y="157.2" font-size="12" textLength="6.6" lengthAdjust="spacingAndGlyphs" fill="#111" stroke="#111" stroke-width="0.4">4</text>
<text x="302.7" y="177.7" font-size="14" text-anchor="middle" textLength="34.4" lengthAdjust="spacingAndGlyphs" fill="#111" stroke="#111" stroke-width="0.45">FL2-H</text>
<text transform="translate(92.1,141.5) rotate(-90)" font-size="13.6" text-anchor="middle" textLength="6.4" lengthAdjust="spacingAndGlyphs" fill="#111" stroke="#111" stroke-width="0.45">0</text>
<text transform="translate(92.1,114.8) rotate(-90)" font-size="13.6" text-anchor="middle" textLength="12.9" lengthAdjust="spacingAndGlyphs" fill="#111" stroke="#111" stroke-width="0.45">70</text>
<text transform="translate(92.1,89.2) rotate(-90)" font-size="13.6" text-anchor="middle" textLength="19.5" lengthAdjust="spacingAndGlyphs" fill="#111" stroke="#111" stroke-width="0.45">140</text>
<text transform="translate(92.1,63.4) rotate(-90)" font-size="13.6" text-anchor="middle" textLength="19.5" lengthAdjust="spacingAndGlyphs" fill="#111" stroke="#111" stroke-width="0.45">210</text>
<text transform="translate(92.1,38.7) rotate(-90)" font-size="13.6" text-anchor="middle" textLength="19.5" lengthAdjust="spacingAndGlyphs" fill="#111" stroke="#111" stroke-width="0.45">280</text>
<text transform="translate(92.1,13.4) rotate(-90)" font-size="13.6" text-anchor="middle" textLength="19.5" lengthAdjust="spacingAndGlyphs" fill="#111" stroke="#111" stroke-width="0.45">350</text>
<text transform="translate(77.6,77.7) rotate(-90)" font-size="13.2" text-anchor="middle" textLength="40" lengthAdjust="spacingAndGlyphs" fill="#111" stroke="#111" stroke-width="0.45">Counts</text>
</g>
<g id="panelB">
<path d="M105.5,350.8L105.5,349.8H106.0V344.8H106.5V339.6H107.0V335.9H107.5V335.6H108.0V335.4H108.5V332.5H109.0V328.6H109.5V326.2H110.0V324.3H110.5V322.7H111.0V318.8H111.5V317.4H112.0V316.6H112.5V316.2H113.0V314.1H113.5V314.1H114.0V313.5H114.5V314.5H115.0V311.2H115.5V310.6H116.0V305.7H116.5V306.4H117.0V303.3H117.5V300.2H118.0V298.9H118.5V298.2H119.0V294.3H119.5V294.6H120.0V293.5H120.5V291.7H121.0V289.8H121.5V283.0H122.0V283.8H122.5V280.1H123.0V281.5H123.5V278.4H124.0V277.2H124.5V276.1H125.0V272.7H125.5V272.5H126.0V269.5H126.5V273.2H127.0V267.0H127.5V266.3H128.0V260.4H128.5V258.3H129.0V257.0H129.5V257.6H130.0V255.0H130.5V251.5H131.0V247.0H131.5V251.6H132.0V245.2H132.5V245.1H133.0V247.2H133.5V243.6H134.0V245.6H134.5V246.4H135.0V243.7H135.5V243.8H136.0V242.2H136.5V239.8H137.0V233.7H137.5V236.9H138.0V238.6H138.5V234.3H139.0V235.7H139.5V236.5H140.0V238.1H140.5V231.4H141.0V232.4H141.5V233.2H142.0V233.0H142.5V228.3H143.0V234.8H143.5V228.4H144.0V232.1H144.5V228.7H145.0V229.5H145.5V232.4H146.0V230.4H146.5V229.2H147.0V226.7H147.5V227.6H148.0V226.0H148.5V233.5H149.0V225.4H149.5V223.0H150.0V232.3H150.5V232.5H151.0V230.0H151.5V233.7H152.0V233.4H152.5V237.3H153.0V242.9H153.5V246.0H154.0V245.6H154.5V249.3H155.0V246.9H155.5V245.1H156.0V240.2H156.5V240.9H157.0V237.8H157.5V236.2H158.0V239.9H158.5V238.8H159.0V242.4H159.5V244.6H160.0V244.8H160.5V250.0H161.0V242.7H161.5V245.8H162.0V243.1H162.5V245.1H163.0V250.1H163.5V243.7H164.0V248.7H164.5V252.9H165.0V254.0H165.5V257.6H166.0V254.7H166.5V261.7H167.0V259.9H167.5V261.5H168.0V266.9H168.5V268.7H169.0V268.1H169.5V269.1H170.0V271.5H170.5V273.1H171.0V274.0H171.5V273.7H172.0V272.6H172.5V280.7H173.0V280.3H173.5V279.4H174.0V280.4H174.5V283.5H175.0V285.6H175.5V284.5H176.0V292.1H176.5V292.2H177.0V292.8H177.5V295.6H178.0V297.1H178.5V300.1H179.0V300.4H179.5V303.7H180.0V305.8H180.5V304.6H181.0V306.1H181.5V306.2H182.0V307.9H182.5V308.0H183.0V309.8H183.5V311.7H184.0V313.5H184.5V312.7H185.0V317.2H185.5V316.9H186.0V318.6H186.5V319.4H187.0V318.8H187.5V322.8H188.0V321.6H188.5V326.3H189.0V326.3H189.5V329.3H190.0V329.5H190.5V330.5H191.0V332.3H191.5V331.7H192.0V334.4H192.5V333.6H193.0V335.0H193.5V335.1H194.0V337.3H194.5V338.4H195.0V338.3H195.5V338.6H196.0V340.6H196.5V341.9H197.0V342.4H197.5V342.7H198.0V343.8H198.5V345.1H199.0V344.6H199.5V346.4H200.0V347.8H200.5V347.0H201.0V347.9H201.5V348.9H202.0V349.0H202.5V349.5H203.0V349.7V350.8Z" fill="#1f3b7c" stroke="#0a0f22" stroke-width="0.9" stroke-linejoin="miter"/>
<path d="M197.5,350.8L197.5,350.1H198.0V349.7H198.5V350.0H199.0V349.2H199.5V348.8H200.0V348.6H200.5V347.9H201.0V347.5H201.5V347.7H202.0V346.9H202.5V347.3H203.0V346.4H203.5V344.7H204.0V344.6H204.5V344.5H205.0V343.1H205.5V344.2H206.0V343.6H206.5V344.2H207.0V342.2H207.5V342.3H208.0V342.5H208.5V342.2H209.0V340.0H209.5V342.0H210.0V339.4H210.5V340.7H211.0V338.7H211.5V338.1H212.0V336.7H212.5V337.4H213.0V339.5H213.5V335.8H214.0V337.7H214.5V337.0H215.0V334.6H215.5V335.8H216.0V335.6H216.5V333.2H217.0V332.4H217.5V333.8H218.0V332.1H218.5V333.5H219.0V330.7H219.5V327.9H220.0V328.5H220.5V326.3H221.0V328.0H221.5V327.1H222.0V324.7H222.5V323.2H223.0V324.7H223.5V322.1H224.0V323.5H224.5V319.5H225.0V319.6H225.5V318.1H226.0V316.3H226.5V320.8H227.0V318.2H227.5V313.6H228.0V314.7H228.5V309.7H229.0V313.5H229.5V312.2H230.0V309.0H230.5V307.9H231.0V307.9H231.5V307.5H232.0V305.4H232.5V303.8H233.0V304.1H233.5V303.0H234.0V304.3H234.5V302.7H235.0V302.6H235.5V298.9H236.0V300.6H236.5V300.2H237.0V299.5H237.5V299.8H238.0V298.7H238.5V295.6H239.0V299.2H239.5V298.3H240.0V294.9H240.5V296.2H241.0V292.5H241.5V291.2H242.0V292.3H242.5V294.8H243.0V291.0H243.5V287.5H244.0V289.8H244.5V286.8H245.0V285.0H245.5V285.7H246.0V280.1H246.5V278.4H247.0V277.5H247.5V281.1H248.0V277.6H248.5V274.6H249.0V273.0H249.5V274.6H250.0V274.6H250.5V269.2H251.0V270.1H251.5V273.4H252.0V268.4H252.5V265.2H253.0V265.5H253.5V263.8H254.0V263.9H254.5V262.1H255.0V259.0H255.5V258.8H256.0V258.8H256.5V255.3H257.0V255.9H257.5V252.6H258.0V256.5H258.5V256.2H259.0V249.6H259.5V252.6H260.0V250.0H260.5V248.8H261.0V247.0H261.5V247.0H262.0V247.5H262.5V240.9H263.0V245.1H263.5V240.7H264.0V237.5H264.5V238.8H265.0V239.2H265.5V236.3H266.0V236.2H266.5V233.5H267.0V232.0H267.5V234.7H268.0V228.8H268.5V232.7H269.0V230.0H269.5V227.4H270.0V226.6H270.5V225.4H271.0V225.1H271.5V223.8H272.0V222.4H272.5V216.5H273.0V214.8H273.5V220.0H274.0V216.6H274.5V215.8H275.0V215.9H275.5V214.3H276.0V218.5H276.5V214.6H277.0V214.3H277.5V214.3H278.0V217.3H278.5V216.9H279.0V219.1H279.5V218.2H280.0V214.4H280.5V214.3H281.0V221.6H281.5V217.0H282.0V219.2H282.5V219.7H283.0V222.7H283.5V224.1H284.0V221.4H284.5V223.7H285.0V222.2H285.5V229.3H286.0V228.7H286.5V226.3H287.0V234.5H287.5V233.3H288.0V232.2H288.5V235.0H289.0V236.0H289.5V239.0H290.0V240.6H290.5V240.4H291.0V244.4H291.5V238.8H292.0V245.7H292.5V249.6H293.0V252.2H293.5V253.8H294.0V251.5H294.5V251.9H295.0V256.9H295.5V264.4H296.0V261.6H296.5V261.1H297.0V260.8H297.5V266.4H298.0V267.0H298.5V270.8H299.0V271.9H299.5V268.5H300.0V274.9H300.5V278.3H301.0V277.1H301.5V277.5H302.0V279.2H302.5V280.5H303.0V288.9H303.5V289.0H304.0V286.7H304.5V292.0H305.0V289.1H305.5V291.7H306.0V292.9H306.5V295.6H307.0V298.6H307.5V302.6H308.0V301.8H308.5V301.9H309.0V303.8H309.5V304.7H310.0V307.2H310.5V306.5H311.0V309.6H311.5V311.2H312.0V313.2H312.5V311.8H313.0V314.9H313.5V315.9H314.0V315.5H314.5V315.0H315.0V318.3H315.5V321.3H316.0V320.7H316.5V325.2H317.0V323.8H317.5V323.1H318.0V324.9H318.5V326.6H319.0V327.7H319.5V327.8H320.0V329.6H320.5V333.3H321.0V331.4H321.5V331.2H322.0V331.1H322.5V330.2H323.0V333.1H323.5V333.1H324.0V334.0H324.5V333.9H325.0V335.9H325.5V336.7H326.0V335.3H326.5V335.1H327.0V337.4H327.5V339.0H328.0V338.5H328.5V339.0H329.0V337.7H329.5V339.0H330.0V340.6H330.5V340.9H331.0V341.0H331.5V341.9H332.0V342.5H332.5V342.1H333.0V341.8H333.5V341.5H334.0V343.3H334.5V343.3H335.0V343.6H335.5V344.9H336.0V343.7H336.5V344.2H337.0V345.2H337.5V344.2H338.0V343.5H338.5V344.9H339.0V346.2H339.5V345.4H340.0V345.8H340.5V344.9H341.0V347.1H341.5V345.3H342.0V346.2H342.5V346.7H343.0V348.0H343.5V347.1H344.0V346.8H344.5V346.6H345.0V347.4H345.5V347.1H346.0V347.5H346.5V347.9H347.0V348.4H347.5V347.6H348.0V348.7H348.5V347.6H349.0V349.0H349.5V348.3H350.0V348.5H350.5V348.6H351.0V348.9H351.5V348.9H352.0V348.8H352.5V348.8H353.0V348.9H353.5V349.1H354.0V349.1H354.5V349.1H355.0V349.0H355.5V349.4H356.0V349.5H356.5V349.3H357.0V349.7H357.5V349.6H358.0V349.6H358.5V349.4H359.0V349.8H359.5V349.9H360.0V350.0H360.5V349.7H361.0V349.8H361.5V349.9H362.0V349.9H362.5V349.8H363.0V349.9H363.5V350.0H364.0V350.0H364.5V349.9H365.0V350.1H365.5V349.8H366.0V350.1H366.5V350.0H367.0V350.0H367.5V350.2H368.0V350.3H368.5V350.2H369.0V350.2H369.5V350.3H370.0V350.3V350.8Z" fill="#6d6664" stroke="#6d6664" stroke-width="0.5"/>
<path d="M189.10,349.4h2.80v1.6h-2.80zM190.10,349.3h2.80v1.4h-2.80zM191.10,349.1h2.80v1.5h-2.80zM192.10,348.9h2.80v1.6h-2.80zM193.10,348.8h2.80v1.5h-2.80zM194.10,348.6h2.80v1.6h-2.80zM195.10,348.6h2.80v1.5h-2.80zM196.10,348.4h2.80v1.6h-2.80zM197.10,348.3h2.80v1.6h-2.80zM198.10,347.7h2.80v2.1h-2.80zM199.10,347.7h2.80v1.7h-2.80zM200.10,347.2h2.80v2.2h-2.80zM201.10,346.7h2.80v2.2h-2.80zM202.10,346.0h2.80v2.4h-2.80zM203.10,344.8h2.80v3.0h-2.80zM204.10,343.6h2.80v3.3h-2.80zM205.10,343.6h2.80v3.2h-2.80zM206.10,344.1h2.80v2.6h-2.80zM207.10,344.1h2.80v2.2h-2.80zM208.10,343.9h2.80v2.5h-2.80zM209.10,341.2h2.80v5.0h-2.80zM210.10,341.2h2.80v2.7h-2.80zM211.10,340.4h2.80v3.6h-2.80zM212.10,340.4h2.80v5.2h-2.80zM213.10,341.0h2.80v4.5h-2.80zM214.10,340.7h2.80v2.8h-2.80zM215.10,338.2h2.80v5.2h-2.80zM216.10,336.8h2.80v4.3h-2.80zM217.10,336.8h2.80v3.4h-2.80zM218.10,337.2h2.80v3.1h-2.80zM219.10,337.4h2.80v3.3h-2.80zM220.10,333.3h2.80v7.4h-2.80zM221.10,333.3h2.80v5.7h-2.80zM222.10,333.0h2.80v6.0h-2.80zM223.10,332.9h2.80v3.1h-2.80zM224.10,332.5h2.80v3.4h-2.80zM225.10,331.6h2.80v4.0h-2.80zM226.10,331.6h2.80v4.2h-2.80zM227.10,332.7h2.80v3.2h-2.80zM228.10,331.0h2.80v4.9h-2.80zM229.10,328.3h2.80v5.7h-2.80zM230.10,328.3h2.80v4.5h-2.80zM231.10,328.9h2.80v3.8h-2.80zM232.10,328.9h2.80v3.4h-2.80zM233.10,327.1h2.80v5.3h-2.80zM234.10,321.6h2.80v8.5h-2.80zM235.10,321.6h2.80v4.2h-2.80zM236.10,322.8h2.80v3.0h-2.80zM237.10,322.8h2.80v5.6h-2.80zM238.10,321.7h2.80v6.7h-2.80zM239.10,321.7h2.80v4.5h-2.80zM240.10,320.3h2.80v6.0h-2.80zM241.10,314.8h2.80v8.5h-2.80zM242.10,314.8h2.80v5.2h-2.80zM243.10,317.0h2.80v3.2h-2.80zM244.10,315.5h2.80v4.7h-2.80zM245.10,308.4h2.80v10.1h-2.80zM246.10,308.4h2.80v7.6h-2.80zM247.10,308.5h2.80v7.5h-2.80zM248.10,302.2h2.80v9.3h-2.80zM249.10,302.2h2.80v6.6h-2.80zM250.10,299.8h2.80v9.0h-2.80zM251.10,299.8h2.80v4.0h-2.80zM252.10,300.8h2.80v11.0h-2.80zM253.10,308.8h2.80v5.3h-2.80zM254.10,305.0h2.80v9.1h-2.80zM255.10,301.4h2.80v6.6h-2.80zM256.10,301.4h2.80v7.0h-2.80zM257.10,298.4h2.80v10.0h-2.80zM258.10,292.1h2.80v9.3h-2.80zM259.10,285.0h2.80v10.1h-2.80zM260.10,285.0h2.80v14.2h-2.80zM261.10,282.5h2.80v16.7h-2.80zM262.10,278.5h2.80v7.0h-2.80zM263.10,278.5h2.80v10.1h-2.80zM264.10,285.6h2.80v3.9h-2.80zM265.10,280.7h2.80v8.8h-2.80zM266.10,280.7h2.80v8.9h-2.80zM267.10,279.8h2.80v9.7h-2.80zM268.10,279.1h2.80v3.7h-2.80zM269.10,278.1h2.80v4.0h-2.80zM270.10,271.6h2.80v9.5h-2.80zM271.10,271.6h2.80v3.5h-2.80zM272.10,272.1h2.80v8.8h-2.80zM273.10,258.7h2.80v22.2h-2.80zM274.10,258.7h2.80v4.2h-2.80zM275.10,257.8h2.80v5.2h-2.80zM276.10,249.3h2.80v11.5h-2.80zM277.10,249.3h2.80v3.2h-2.80zM278.10,238.7h2.80v13.8h-2.80zM279.10,238.7h2.80v7.3h-2.80zM280.10,243.0h2.80v3.4h-2.80zM281.10,243.4h2.80v6.8h-2.80zM282.10,244.5h2.80v5.7h-2.80zM283.10,234.4h2.80v13.1h-2.80zM284.10,229.6h2.80v7.8h-2.80zM285.10,229.6h2.80v16.9h-2.80zM286.10,236.1h2.80v10.4h-2.80zM287.10,219.0h2.80v20.2h-2.80zM288.10,219.0h2.80v10.3h-2.80zM289.10,225.1h2.80v4.1h-2.80zM290.10,225.1h2.80v6.7h-2.80zM291.10,224.8h2.80v7.1h-2.80zM292.10,224.8h2.80v11.1h-2.80zM293.10,230.4h2.80v5.6h-2.80zM294.10,229.9h2.80v3.5h-2.80zM295.10,229.9h2.80v8.5h-2.80zM296.10,229.2h2.80v9.2h-2.80zM297.10,219.3h2.80v12.9h-2.80zM298.10,217.7h2.80v4.6h-2.80zM299.10,217.7h2.80v11.2h-2.80zM300.10,225.9h2.80v13.8h-2.80zM301.10,236.7h2.80v4.4h-2.80zM302.10,232.3h2.80v8.8h-2.80zM303.10,232.3h2.80v15.2h-2.80zM304.10,237.6h2.80v9.9h-2.80zM305.10,228.9h2.80v11.7h-2.80zM306.10,228.9h2.80v5.8h-2.80zM307.10,225.2h2.80v9.5h-2.80zM308.10,215.6h2.80v12.6h-2.80zM309.10,215.6h2.80v3.2h-2.80zM310.10,215.6h2.80v3.2h-2.80zM311.10,215.6h2.80v13.3h-2.80zM312.10,223.3h2.80v5.6h-2.80zM313.10,223.3h2.80v21.7h-2.80zM314.10,242.1h2.80v4.1h-2.80zM315.10,243.2h2.80v4.9h-2.80zM316.10,242.1h2.80v5.9h-2.80zM317.10,242.1h2.80v18.0h-2.80zM318.10,256.7h2.80v3.4h-2.80zM319.10,256.7h2.80v3.9h-2.80zM320.10,248.8h2.80v11.8h-2.80zM321.10,248.8h2.80v5.4h-2.80zM322.10,243.7h2.80v10.5h-2.80zM323.10,243.7h2.80v3.0h-2.80zM324.10,239.5h2.80v7.2h-2.80zM325.10,239.5h2.80v9.0h-2.80zM326.10,244.9h2.80v3.6h-2.80zM327.10,244.1h2.80v3.8h-2.80zM328.10,244.1h2.80v11.2h-2.80zM329.10,252.3h2.80v4.6h-2.80zM330.10,253.9h2.80v6.6h-2.80zM331.10,257.5h2.80v10.0h-2.80zM332.10,264.5h2.80v4.4h-2.80zM333.10,265.9h2.80v17.6h-2.80zM334.10,280.5h2.80v3.9h-2.80zM335.10,276.0h2.80v8.4h-2.80zM336.10,272.4h2.80v6.6h-2.80zM337.10,262.3h2.80v13.1h-2.80zM338.10,262.3h2.80v14.3h-2.80zM339.10,272.1h2.80v4.6h-2.80zM340.10,272.1h2.80v7.8h-2.80zM341.10,276.9h2.80v4.9h-2.80zM342.10,278.7h2.80v5.9h-2.80zM343.10,281.6h2.80v11.7h-2.80zM344.10,287.3h2.80v6.1h-2.80zM345.10,287.3h2.80v17.1h-2.80zM346.10,291.4h2.80v13.0h-2.80zM347.10,291.4h2.80v12.2h-2.80zM348.10,295.7h2.80v7.9h-2.80zM349.10,295.7h2.80v14.7h-2.80zM350.10,301.6h2.80v8.8h-2.80zM351.10,301.6h2.80v9.5h-2.80zM352.10,308.1h2.80v6.7h-2.80zM353.10,311.8h2.80v9.9h-2.80zM354.10,318.7h2.80v4.9h-2.80zM355.10,320.6h2.80v3.2h-2.80zM356.10,320.0h2.80v3.7h-2.80zM357.10,320.0h2.80v11.8h-2.80zM358.10,325.7h2.80v6.1h-2.80zM359.10,325.7h2.80v6.0h-2.80zM360.10,327.9h2.80v3.7h-2.80zM361.10,327.9h2.80v4.8h-2.80zM362.10,329.8h2.80v3.1h-2.80zM363.10,329.9h2.80v6.8h-2.80zM364.10,333.6h2.80v7.3h-2.80zM365.10,336.8h2.80v4.1h-2.80zM366.10,336.8h2.80v5.7h-2.80zM367.10,338.6h2.80v3.7h-2.80zM368.10,338.6h2.80v7.1h-2.80zM369.10,341.9h2.80v3.6h-2.80zM370.10,341.9h2.80v6.0h-2.80zM371.10,344.8h2.80v2.9h-2.80zM372.10,344.3h2.80v2.5h-2.80zM373.10,344.3h2.80v3.6h-2.80zM374.10,346.0h2.80v2.2h-2.80zM375.10,346.5h2.80v2.3h-2.80zM376.10,347.1h2.80v1.8h-2.80zM377.10,347.2h2.80v1.7h-2.80zM378.10,346.4h2.80v2.4h-2.80zM379.10,346.4h2.80v3.1h-2.80zM380.10,347.9h2.80v1.6h-2.80zM381.10,348.0h2.80v1.8h-2.80zM382.10,348.3h2.80v1.8h-2.80zM383.10,348.4h2.80v1.7h-2.80zM384.10,348.4h2.80v2.0h-2.80zM385.10,348.9h2.80v1.6h-2.80zM386.10,349.1h2.80v1.5h-2.80zM387.10,349.1h2.80v1.4h-2.80zM388.10,349.1h2.80v1.6h-2.80zM389.10,349.4h2.80v1.4h-2.80zM390.10,349.4h2.80v1.4h-2.80zM391.10,349.4h2.80v1.3h-2.80zM392.10,349.3h2.80v1.5h-2.80zM393.10,349.3h2.80v1.4h-2.80zM394.10,349.3h2.80v1.4h-2.80zM395.10,349.3h2.80v1.4h-2.80zM396.10,349.4h2.80v1.4h-2.80zM397.10,349.4h2.80v1.4h-2.80zM398.10,349.4h2.80v1.3h-2.80zM399.10,349.4h2.80v1.3h-2.80zM400.10,349.5h2.80v1.3h-2.80zM401.10,349.5h2.80v1.3h-2.80zM402.10,349.5h2.80v1.3h-2.80zM403.10,349.5h2.80v1.3h-2.80zM404.10,349.5h2.80v1.3h-2.80zM405.10,349.5h2.80v1.4h-2.80zM406.10,349.5h2.80v1.3h-2.80zM407.10,349.5h2.80v1.3h-2.80zM408.10,349.6h2.80v1.4h-2.80zM409.10,349.6h2.80v1.3h-2.80zM410.10,349.6h2.80v1.3h-2.80zM411.10,349.6h2.80v1.4h-2.80zM412.10,349.6h2.80v1.3h-2.80zM413.10,349.6h2.80v1.3h-2.80z" fill="#cb0e2f"/>
<path d="M104.70,348.7h3.60v1.5h-3.60zM104.70,348.7h3.60v1.7h-3.60zM106.70,349.0h3.60v1.5h-3.60zM106.70,349.0h3.60v1.6h-3.60zM108.70,349.0h3.60v1.4h-3.60zM108.70,349.0h3.60v1.4h-3.60zM110.70,349.0h3.60v1.4h-3.60zM110.70,349.0h3.60v1.4h-3.60zM112.70,349.0h3.60v1.4h-3.60zM112.70,348.9h3.60v1.5h-3.60zM114.70,348.8h3.60v1.5h-3.60zM114.70,348.7h3.60v1.4h-3.60zM116.70,348.7h3.60v1.6h-3.60zM116.70,349.0h3.60v1.4h-3.60zM118.70,348.9h3.60v1.4h-3.60zM118.70,348.7h3.60v1.6h-3.60zM120.70,348.7h3.60v1.6h-3.60zM120.70,348.9h3.60v1.4h-3.60zM122.70,348.8h3.60v1.5h-3.60zM122.70,348.8h3.60v1.4h-3.60zM124.70,348.8h3.60v1.7h-3.60zM124.70,349.0h3.60v1.4h-3.60zM126.70,349.0h3.60v1.4h-3.60zM126.70,348.9h3.60v1.4h-3.60zM128.70,348.9h3.60v1.5h-3.60zM128.70,348.9h3.60v1.4h-3.60zM130.70,348.9h3.60v1.5h-3.60zM130.70,348.8h3.60v1.5h-3.60zM132.70,348.8h3.60v1.4h-3.60zM132.70,348.9h3.60v1.6h-3.60zM134.70,348.8h3.60v1.7h-3.60zM134.70,348.8h3.60v1.4h-3.60zM136.70,348.8h3.60v1.6h-3.60zM136.70,348.9h3.60v1.5h-3.60zM138.70,348.9h3.60v1.4h-3.60zM138.70,348.8h3.60v1.5h-3.60zM140.70,348.8h3.60v1.5h-3.60zM140.70,348.8h3.60v1.6h-3.60zM142.70,348.7h3.60v1.8h-3.60zM142.70,348.7h3.60v1.7h-3.60zM144.70,348.9h3.60v1.5h-3.60zM144.70,348.9h3.60v1.4h-3.60zM146.70,348.7h3.60v1.6h-3.60zM146.70,348.7h3.60v1.7h-3.60zM148.70,349.0h3.60v1.4h-3.60zM148.70,348.9h3.60v1.4h-3.60zM150.70,348.9h3.60v1.4h-3.60zM150.70,348.8h3.60v1.6h-3.60zM152.70,348.8h3.60v1.5h-3.60zM152.70,348.9h3.60v1.4h-3.60zM154.70,348.9h3.60v1.4h-3.60zM154.70,348.6h3.60v1.7h-3.60zM156.70,348.6h3.60v1.7h-3.60zM156.70,348.9h3.60v1.4h-3.60zM158.70,348.8h3.60v1.5h-3.60zM158.70,348.8h3.60v1.5h-3.60zM160.70,348.9h3.60v1.5h-3.60zM160.70,348.9h3.60v1.5h-3.60zM162.70,348.9h3.60v1.5h-3.60zM162.70,348.8h3.60v1.6h-3.60zM164.70,348.8h3.60v1.4h-3.60zM164.70,348.8h3.60v1.5h-3.60zM166.70,348.7h3.60v1.5h-3.60zM166.70,348.7h3.60v1.5h-3.60zM168.70,348.7h3.60v1.6h-3.60zM168.70,348.8h3.60v1.4h-3.60zM170.70,348.8h3.60v1.4h-3.60zM170.70,348.7h3.60v1.6h-3.60zM172.70,348.7h3.60v1.4h-3.60zM172.70,348.8h3.60v1.5h-3.60zM174.70,348.8h3.60v1.5h-3.60zM174.70,348.8h3.60v1.4h-3.60zM176.70,348.8h3.60v1.4h-3.60zM176.70,348.7h3.60v1.5h-3.60zM178.70,348.7h3.60v1.5h-3.60zM178.70,348.6h3.60v1.6h-3.60zM180.70,348.6h3.60v1.6h-3.60zM180.70,348.9h3.60v1.6h-3.60zM182.70,348.9h3.60v1.6h-3.60zM182.70,348.8h3.60v1.5h-3.60zM184.70,348.6h3.60v1.6h-3.60zM184.70,348.6h3.60v1.4h-3.60zM186.70,348.6h3.60v1.4h-3.60zM186.70,348.4h3.60v1.6h-3.60zM188.70,348.4h3.60v1.6h-3.60zM188.70,348.4h3.60v1.6h-3.60zM190.70,348.4h3.60v1.5h-3.60zM190.70,347.6h3.60v2.3h-3.60zM192.70,347.5h3.60v1.7h-3.60zM192.70,347.4h3.60v1.7h-3.60zM194.70,345.1h3.60v4.0h-3.60zM194.70,345.1h3.60v2.0h-3.60zM196.70,344.6h3.60v2.5h-3.60zM196.70,344.1h3.60v2.5h-3.60zM198.70,344.1h3.60v3.1h-3.60zM198.70,342.7h3.60v4.7h-3.60zM200.70,341.3h3.60v3.7h-3.60zM200.70,339.8h3.60v4.0h-3.60zM202.70,338.7h3.60v3.8h-3.60zM202.70,338.7h3.60v4.2h-3.60zM204.70,340.3h3.60v3.5h-3.60zM204.70,339.1h3.60v4.8h-3.60zM206.70,336.8h3.60v5.2h-3.60zM206.70,336.8h3.60v3.6h-3.60zM208.70,335.3h3.60v5.2h-3.60zM208.70,335.3h3.60v6.3h-3.60zM210.70,336.1h3.60v5.4h-3.60zM210.70,336.1h3.60v5.2h-3.60zM212.70,336.0h3.60v5.3h-3.60zM212.70,335.3h3.60v4.0h-3.60zM214.70,331.1h3.60v7.8h-3.60zM214.70,331.1h3.60v6.2h-3.60zM216.70,330.8h3.60v6.5h-3.60zM216.70,329.6h3.60v5.2h-3.60zM218.70,329.6h3.60v5.0h-3.60zM218.70,330.6h3.60v6.6h-3.60zM220.70,329.8h3.60v7.4h-3.60zM220.70,329.8h3.60v7.0h-3.60zM222.70,328.7h3.60v8.2h-3.60zM222.70,322.6h3.60v10.6h-3.60zM224.70,322.6h3.60v5.6h-3.60zM224.70,323.6h3.60v9.8h-3.60zM226.70,324.4h3.60v9.0h-3.60zM226.70,322.0h3.60v6.9h-3.60zM228.70,319.6h3.60v7.0h-3.60zM228.70,319.6h3.60v5.4h-3.60zM230.70,320.2h3.60v4.8h-3.60zM230.70,316.9h3.60v8.0h-3.60zM232.70,316.8h3.60v4.7h-3.60zM232.70,316.6h3.60v4.8h-3.60zM234.70,311.3h3.60v9.9h-3.60zM234.70,311.3h3.60v6.0h-3.60zM236.70,310.0h3.60v7.3h-3.60zM236.70,309.2h3.60v5.4h-3.60zM238.70,307.2h3.60v6.6h-3.60zM238.70,306.9h3.60v4.9h-3.60zM240.70,305.1h3.60v6.4h-3.60zM240.70,305.1h3.60v11.8h-3.60zM242.70,304.4h3.60v12.5h-3.60zM242.70,304.4h3.60v5.0h-3.60zM244.70,299.5h3.60v10.0h-3.60zM244.70,299.5h3.60v6.7h-3.60zM246.70,301.4h3.60v4.7h-3.60zM246.70,301.4h3.60v7.6h-3.60zM248.70,303.8h3.60v5.2h-3.60zM248.70,294.4h3.60v14.0h-3.60zM250.70,294.4h3.60v11.8h-3.60zM250.70,293.9h3.60v12.3h-3.60zM252.70,293.9h3.60v7.7h-3.60zM252.70,290.6h3.60v11.0h-3.60zM254.70,290.6h3.60v6.4h-3.60zM254.70,287.6h3.60v9.3h-3.60zM256.70,280.4h3.60v11.8h-3.60zM256.70,280.4h3.60v10.6h-3.60zM258.70,280.7h3.60v10.3h-3.60zM258.70,279.4h3.60v6.0h-3.60zM260.70,278.9h3.60v5.1h-3.60zM260.70,277.8h3.60v5.6h-3.60zM262.70,277.8h3.60v10.7h-3.60zM262.70,264.8h3.60v23.7h-3.60zM264.70,264.3h3.60v5.1h-3.60zM264.70,259.0h3.60v9.9h-3.60zM266.70,259.0h3.60v12.0h-3.60zM266.70,255.8h3.60v15.2h-3.60zM268.70,251.2h3.60v9.2h-3.60zM268.70,251.2h3.60v7.0h-3.60zM270.70,248.6h3.60v9.6h-3.60zM270.70,248.0h3.60v5.2h-3.60zM272.70,234.3h3.60v18.3h-3.60zM272.70,234.3h3.60v10.2h-3.60zM274.70,239.9h3.60v6.1h-3.60zM274.70,233.3h3.60v12.7h-3.60zM276.70,233.3h3.60v12.9h-3.60zM276.70,232.7h3.60v13.6h-3.60zM278.70,227.2h3.60v10.1h-3.60zM278.70,227.0h3.60v4.7h-3.60zM280.70,227.0h3.60v7.3h-3.60zM280.70,229.8h3.60v5.0h-3.60zM282.70,219.0h3.60v15.8h-3.60zM282.70,219.0h3.60v8.3h-3.60zM284.70,215.4h3.60v11.9h-3.60zM284.70,212.7h3.60v7.3h-3.60zM286.70,212.7h3.60v4.6h-3.60zM286.70,212.7h3.60v10.3h-3.60zM288.70,212.7h3.60v10.3h-3.60zM288.70,212.7h3.60v10.4h-3.60zM290.70,218.5h3.60v15.9h-3.60zM290.70,228.7h3.60v5.6h-3.60zM292.70,223.4h3.60v9.9h-3.60zM292.70,223.4h3.60v5.3h-3.60zM294.70,224.2h3.60v4.9h-3.60zM294.70,212.7h3.60v16.4h-3.60zM296.70,212.7h3.60v13.7h-3.60zM296.70,212.7h3.60v13.7h-3.60zM298.70,212.7h3.60v13.2h-3.60zM298.70,217.6h3.60v8.3h-3.60zM300.70,217.6h3.60v12.4h-3.60zM300.70,225.4h3.60v17.5h-3.60zM302.70,238.3h3.60v9.2h-3.60zM302.70,242.9h3.60v15.2h-3.60zM304.70,232.9h3.60v25.2h-3.60zM304.70,225.4h3.60v12.1h-3.60zM306.70,225.4h3.60v12.0h-3.60zM306.70,224.1h3.60v13.3h-3.60zM308.70,212.7h3.60v16.0h-3.60zM308.70,212.7h3.60v5.8h-3.60zM310.70,213.9h3.60v8.3h-3.60zM310.70,217.6h3.60v4.7h-3.60zM312.70,217.4h3.60v4.9h-3.60zM312.70,217.4h3.60v18.1h-3.60zM314.70,230.9h3.60v11.0h-3.60zM314.70,237.2h3.60v12.5h-3.60zM316.70,245.2h3.60v7.1h-3.60zM316.70,247.7h3.60v6.6h-3.60zM318.70,242.1h3.60v12.2h-3.60zM318.70,240.8h3.60v5.8h-3.60zM320.70,236.3h3.60v9.1h-3.60zM320.70,236.3h3.60v9.1h-3.60zM322.70,240.2h3.60v5.3h-3.60zM322.70,225.4h3.60v19.4h-3.60zM324.70,225.4h3.60v20.7h-3.60zM324.70,241.5h3.60v9.4h-3.60zM326.70,246.3h3.60v10.9h-3.60zM326.70,252.6h3.60v5.0h-3.60zM328.70,253.0h3.60v10.3h-3.60zM328.70,258.7h3.60v5.5h-3.60zM330.70,259.6h3.60v6.6h-3.60zM330.70,261.6h3.60v8.0h-3.60zM332.70,265.0h3.60v7.1h-3.60zM332.70,264.0h3.60v8.1h-3.60zM334.70,264.0h3.60v8.3h-3.60zM334.70,267.7h3.60v6.3h-3.60zM336.70,260.1h3.60v13.9h-3.60zM336.70,260.1h3.60v9.6h-3.60zM338.70,262.4h3.60v7.4h-3.60zM338.70,262.4h3.60v21.0h-3.60zM340.70,277.6h3.60v5.8h-3.60zM340.70,277.6h3.60v15.5h-3.60zM342.70,288.5h3.60v5.6h-3.60zM342.70,289.5h3.60v8.0h-3.60zM344.70,292.9h3.60v6.3h-3.60zM344.70,294.6h3.60v5.8h-3.60zM346.70,295.8h3.60v8.8h-3.60zM346.70,298.6h3.60v6.0h-3.60zM348.70,292.3h3.60v10.9h-3.60zM348.70,292.3h3.60v17.9h-3.60zM350.70,305.6h3.60v10.0h-3.60zM350.70,304.4h3.60v11.2h-3.60zM352.70,304.4h3.60v17.5h-3.60zM352.70,315.7h3.60v6.2h-3.60zM354.70,315.7h3.60v9.9h-3.60zM354.70,319.5h3.60v6.1h-3.60zM356.70,319.5h3.60v7.9h-3.60zM356.70,322.2h3.60v5.2h-3.60zM358.70,322.2h3.60v8.1h-3.60zM358.70,324.7h3.60v5.6h-3.60zM360.70,324.7h3.60v10.8h-3.60zM360.70,331.2h3.60v3.9h-3.60zM362.70,331.2h3.60v4.7h-3.60zM362.70,332.2h3.60v4.8h-3.60zM364.70,333.4h3.60v4.3h-3.60zM364.70,334.2h3.60v6.3h-3.60zM366.70,337.3h3.60v4.0h-3.60zM366.70,338.3h3.60v3.7h-3.60zM368.70,339.1h3.60v6.3h-3.60zM368.70,340.0h3.60v5.3h-3.60zM370.70,340.0h3.60v4.5h-3.60zM370.70,341.5h3.60v2.9h-3.60zM372.70,341.5h3.60v4.4h-3.60zM372.70,343.7h3.60v2.9h-3.60zM374.70,343.4h3.60v3.1h-3.60zM374.70,343.4h3.60v4.5h-3.60zM376.70,344.5h3.60v3.4h-3.60zM376.70,344.5h3.60v3.5h-3.60zM378.70,346.1h3.60v2.3h-3.60zM378.70,346.4h3.60v1.9h-3.60zM380.70,346.4h3.60v3.1h-3.60zM380.70,347.6h3.60v1.8h-3.60zM382.70,347.4h3.60v1.8h-3.60zM382.70,347.4h3.60v2.3h-3.60zM384.70,348.2h3.60v1.7h-3.60zM384.70,348.4h3.60v1.5h-3.60zM386.70,348.5h3.60v1.4h-3.60zM386.70,348.5h3.60v1.7h-3.60zM388.70,348.8h3.60v1.6h-3.60zM388.70,348.8h3.60v1.6h-3.60zM390.70,348.8h3.60v1.6h-3.60zM390.70,348.7h3.60v1.8h-3.60zM392.70,348.7h3.60v1.5h-3.60zM392.70,348.7h3.60v1.6h-3.60zM394.70,348.9h3.60v1.4h-3.60zM394.70,348.9h3.60v1.5h-3.60zM396.70,349.0h3.60v1.5h-3.60zM396.70,349.0h3.60v1.5h-3.60zM398.70,349.0h3.60v1.5h-3.60zM398.70,349.1h3.60v1.4h-3.60zM400.70,349.0h3.60v1.4h-3.60zM400.70,349.0h3.60v1.4h-3.60zM402.70,349.1h3.60v1.4h-3.60zM402.70,349.1h3.60v1.4h-3.60zM404.70,349.1h3.60v1.5h-3.60zM404.70,349.2h3.60v1.4h-3.60zM406.70,349.2h3.60v1.3h-3.60zM406.70,349.1h3.60v1.4h-3.60zM408.70,349.1h3.60v1.4h-3.60zM408.70,349.1h3.60v1.5h-3.60zM410.70,349.1h3.60v1.5h-3.60zM410.70,349.1h3.60v1.4h-3.60zM412.70,349.2h3.60v1.4h-3.60zM412.70,349.1h3.60v1.4h-3.60zM414.70,349.1h3.60v1.4h-3.60zM414.70,349.1h3.60v1.4h-3.60zM416.70,349.1h3.60v1.4h-3.60zM416.70,349.1h3.60v1.4h-3.60zM418.70,349.0h3.60v1.5h-3.60zM418.70,349.0h3.60v1.5h-3.60zM420.70,349.1h3.60v1.4h-3.60zM420.70,349.1h3.60v1.4h-3.60zM422.70,349.1h3.60v1.4h-3.60zM422.70,349.2h3.60v1.4h-3.60zM424.70,349.0h3.60v1.6h-3.60zM424.70,349.0h3.60v1.6h-3.60zM426.70,349.1h3.60v1.5h-3.60zM426.70,349.1h3.60v1.4h-3.60zM428.70,349.1h3.60v1.4h-3.60zM428.70,349.1h3.60v1.4h-3.60zM430.70,349.1h3.60v1.3h-3.60zM430.70,349.0h3.60v1.5h-3.60zM432.70,349.0h3.60v1.4h-3.60zM432.70,349.0h3.60v1.5h-3.60zM434.70,349.1h3.60v1.4h-3.60zM434.70,349.0h3.60v1.5h-3.60zM436.70,349.0h3.60v1.5h-3.60zM436.70,349.1h3.60v1.4h-3.60zM438.70,349.1h3.60v1.5h-3.60zM438.70,349.1h3.60v1.5h-3.60zM440.70,349.1h3.60v1.4h-3.60zM440.70,349.1h3.60v1.4h-3.60zM442.70,349.1h3.60v1.4h-3.60zM442.70,349.1h3.60v1.4h-3.60zM444.70,349.2h3.60v1.4h-3.60zM444.70,349.2h3.60v1.4h-3.60zM446.70,349.1h3.60v1.5h-3.60zM446.70,349.1h3.60v1.5h-3.60zM448.70,349.1h3.60v1.4h-3.60zM448.70,349.1h3.60v1.4h-3.60zM450.70,349.2h3.60v1.4h-3.60zM450.70,349.2h3.60v1.4h-3.60zM452.70,349.1h3.60v1.5h-3.60zM452.70,349.1h3.60v1.6h-3.60zM454.70,349.0h3.60v1.6h-3.60zM454.70,349.0h3.60v1.5h-3.60zM456.70,349.1h3.60v1.4h-3.60zM456.70,349.1h3.60v1.4h-3.60zM458.70,349.1h3.60v1.4h-3.60zM458.70,349.0h3.60v1.6h-3.60zM460.70,349.0h3.60v1.4h-3.60zM460.70,349.0h3.60v1.5h-3.60zM462.70,349.2h3.60v1.4h-3.60zM462.70,349.1h3.60v1.5h-3.60zM464.70,349.1h3.60v1.4h-3.60zM464.70,349.1h3.60v1.4h-3.60zM466.70,349.2h3.60v1.3h-3.60zM466.70,349.0h3.60v1.5h-3.60zM468.70,349.0h3.60v1.5h-3.60zM468.70,349.1h3.60v1.4h-3.60zM470.70,349.0h3.60v1.4h-3.60zM470.70,349.0h3.60v1.4h-3.60zM472.70,349.1h3.60v1.4h-3.60zM472.70,349.0h3.60v1.4h-3.60zM474.70,349.0h3.60v1.6h-3.60zM474.70,349.1h3.60v1.5h-3.60zM476.70,349.1h3.60v1.4h-3.60zM476.70,349.1h3.60v1.5h-3.60zM478.70,349.1h3.60v1.5h-3.60zM478.70,349.1h3.60v1.4h-3.60zM480.70,349.0h3.60v1.5h-3.60zM480.70,349.0h3.60v1.4h-3.60zM482.70,349.0h3.60v1.6h-3.60zM482.70,349.1h3.60v1.5h-3.60zM484.70,349.1h3.60v1.4h-3.60zM484.70,349.1h3.60v1.4h-3.60zM486.70,349.1h3.60v1.4h-3.60zM486.70,349.1h3.60v1.5h-3.60zM488.70,349.0h3.60v1.6h-3.60zM488.70,349.0h3.60v1.4h-3.60zM490.70,349.0h3.60v1.6h-3.60zM490.70,349.2h3.60v1.4h-3.60zM492.70,349.2h3.60v1.3h-3.60zM492.70,349.2h3.60v1.4h-3.60zM494.70,349.1h3.60v1.4h-3.60zM494.70,349.1h3.60v1.4h-3.60zM496.70,349.2h3.60v1.4h-3.60zM496.70,349.2h3.60v1.4h-3.60zM498.70,349.1h3.60v1.4h-3.60zM498.70,349.0h3.60v1.4h-3.60zM500.70,349.0h3.60v1.4h-3.60zM500.70,349.1h3.60v1.4h-3.60zM502.70,349.1h3.60v1.4h-3.60zM502.70,349.1h3.60v1.5h-3.60z" fill="#7ab51d"/>
<rect x="104" y="275.8" width="3.2" height="75.0" fill="#111"/>
<path d="M104.5,351.8V213.8H506.3V352.3" fill="none" stroke="#111" stroke-width="1.5"/>
<line x1="104.5" y1="213.10000000000002" x2="104.5" y2="351.6" stroke="#111" stroke-width="2.2"/>
<line x1="103.5" y1="351.7" x2="507.0" y2="351.7" stroke="#111" stroke-width="1.6"/>
<path d="M98.0,350.90H104.5M98.0,327.45H104.5M98.0,304.00H104.5M98.0,280.55H104.5M98.0,257.10H104.5M98.0,233.65H104.5M100.2,346.21H104.5M100.2,341.52H104.5M100.2,336.83H104.5M100.2,332.14H104.5M100.2,322.76H104.5M100.2,318.07H104.5M100.2,313.38H104.5M100.2,308.69H104.5M100.2,299.31H104.5M100.2,294.62H104.5M100.2,289.93H104.5M100.2,285.24H104.5M100.2,275.86H104.5M100.2,271.17H104.5M100.2,266.48H104.5M100.2,261.79H104.5M100.2,252.41H104.5M100.2,247.72H104.5M100.2,243.03H104.5M100.2,238.34H104.5M100.2,228.96H104.5M100.2,224.27H104.5M100.2,219.58H104.5M100.2,214.89H104.5" stroke="#111" stroke-width="1.35" fill="none"/>
<path d="M105.00,351.8v6M135.10,351.8v4M152.71,351.8v4M165.21,351.8v4M174.90,351.8v4M182.82,351.8v4M189.51,351.8v4M195.31,351.8v4M200.42,351.8v4M205.00,351.8v6M235.10,351.8v4M252.71,351.8v4M265.21,351.8v4M274.90,351.8v4M282.82,351.8v4M289.51,351.8v4M295.31,351.8v4M300.42,351.8v4M305.00,351.8v6M335.10,351.8v4M352.71,351.8v4M365.21,351.8v4M374.90,351.8v4M382.82,351.8v4M389.51,351.8v4M395.31,351.8v4M400.42,351.8v4M405.00,351.8v6M435.10,351.8v4M452.71,351.8v4M465.21,351.8v4M474.90,351.8v4M482.82,351.8v4M489.51,351.8v4M495.31,351.8v4M500.42,351.8v4M505.00,351.8v6" stroke="#111" stroke-width="1.1" fill="none"/>
<text x="95.1" y="373.4" font-size="14" textLength="12.3" lengthAdjust="spacingAndGlyphs" fill="#111" stroke="#111" stroke-width="0.4">10</text>
<text x="108.2" y="366.0" font-size="12" textLength="6.6" lengthAdjust="spacingAndGlyphs" fill="#111" stroke="#111" stroke-width="0.4">0</text>
<text x="195.1" y="373.4" font-size="14" textLength="12.3" lengthAdjust="spacingAndGlyphs" fill="#111" stroke="#111" stroke-width="0.4">10</text>
<text x="208.2" y="366.0" font-size="12" textLength="6.6" lengthAdjust="spacingAndGlyphs" fill="#111" stroke="#111" stroke-width="0.4">1</text>
<text x="295.1" y="373.4" font-size="14" textLength="12.3" lengthAdjust="spacingAndGlyphs" fill="#111" stroke="#111" stroke-width="0.4">10</text>
<text x="308.2" y="366.0" font-size="12" textLength="6.6" lengthAdjust="spacingAndGlyphs" fill="#111" stroke="#111" stroke-width="0.4">2</text>
<text x="395.1" y="373.4" font-size="14" textLength="12.3" lengthAdjust="spacingAndGlyphs" fill="#111" stroke="#111" stroke-width="0.4">10</text>
<text x="408.2" y="366.0" font-size="12" textLength="6.6" lengthAdjust="spacingAndGlyphs" fill="#111" stroke="#111" stroke-width="0.4">3</text>
<text x="494.6" y="373.4" font-size="14" textLength="12.3" lengthAdjust="spacingAndGlyphs" fill="#111" stroke="#111" stroke-width="0.4">10</text>
<text x="507.7" y="366.0" font-size="12" textLength="6.6" lengthAdjust="spacingAndGlyphs" fill="#111" stroke="#111" stroke-width="0.4">4</text>
<text x="302.7" y="386.5" font-size="14" text-anchor="middle" textLength="34.4" lengthAdjust="spacingAndGlyphs" fill="#111" stroke="#111" stroke-width="0.45">FL2-H</text>
<text transform="translate(92.1,350.6) rotate(-90)" font-size="13.6" text-anchor="middle" textLength="6.4" lengthAdjust="spacingAndGlyphs" fill="#111" stroke="#111" stroke-width="0.45">0</text>
<text transform="translate(92.1,233.2) rotate(-90)" font-size="13.6" text-anchor="middle" textLength="19.5" lengthAdjust="spacingAndGlyphs" fill="#111" stroke="#111" stroke-width="0.45">250</text>
<text transform="translate(77.6,286.0) rotate(-90)" font-size="13.2" text-anchor="middle" textLength="40" lengthAdjust="spacingAndGlyphs" fill="#111" stroke="#111" stroke-width="0.45">Counts</text>
</g>
<text x="3.9" y="27.6" font-size="35" font-weight="bold" fill="#0a0a0a">A</text>
<text x="2.2" y="239.0" font-size="35" font-weight="bold" fill="#0a0a0a">B</text>
<text x="1.5" y="471.4" font-size="35" font-weight="bold" fill="#0a0a0a">C</text>
<text x="-0.9" y="794.4" font-size="35" font-weight="bold" fill="#0a0a0a">D</text>
<text x="4.8" y="79.6" font-size="19.0" fill="#1a1a1a">wtFPN</text>
<text x="4.2" y="288.8" font-size="19.2" fill="#1a1a1a">Y64N</text>
<text x="376.5" y="35.8" font-size="19.3" textLength="101.6" lengthAdjust="spacingAndGlyphs" fill="#383435">control cells</text>
<text x="376.5" y="58.6" font-size="19.3" textLength="61.3" lengthAdjust="spacingAndGlyphs" fill="#cb0e2f">no Hep</text>
<text x="376.5" y="80.1" font-size="19.3" textLength="123.8" lengthAdjust="spacingAndGlyphs" fill="#78ab2e">0.5µM Hep-25</text>
<text x="376.5" y="244.6" font-size="19.3" textLength="101.6" lengthAdjust="spacingAndGlyphs" fill="#383435">control cells</text>
<text x="376.5" y="267.4" font-size="19.3" textLength="61.3" lengthAdjust="spacingAndGlyphs" fill="#cb0e2f">no Hep</text>
<text x="376.5" y="288.9" font-size="19.3" textLength="123.8" lengthAdjust="spacingAndGlyphs" fill="#78ab2e">0.5µM Hep-25</text>
<text x="136.5" y="404.6" font-size="19.3" fill="#111">surface TfR expression</text>
<line x1="353.7" y1="398.8" x2="484" y2="398.8" stroke="#0a0a0a" stroke-width="3.4"/>
<path d="M502.4,398.8L481.4,392.3L482.8,398.8L481.4,405.3Z" fill="#0a0a0a"/>
<g id="panelC">
<rect x="146.90" y="471.45" width="16.5" height="200.55" fill="#000"/>
<rect x="162.30" y="634.65" width="14.5" height="37.35" fill="#fff" stroke="#000" stroke-width="2.3"/>
<rect x="181.75" y="497.00" width="16.5" height="175.00" fill="#000"/>
<rect x="197.15" y="628.70" width="14.5" height="43.30" fill="#fff" stroke="#000" stroke-width="2.3"/>
<rect x="216.60" y="488.25" width="16.5" height="183.75" fill="#000"/>
<rect x="232.00" y="490.80" width="14.5" height="181.20" fill="#fff" stroke="#000" stroke-width="2.3"/>
<rect x="251.45" y="469.00" width="16.5" height="203.00" fill="#000"/>
<rect x="266.85" y="483.45" width="14.5" height="188.55" fill="#fff" stroke="#000" stroke-width="2.3"/>
<rect x="286.30" y="466.55" width="16.5" height="205.45" fill="#000"/>
<rect x="301.70" y="514.25" width="14.5" height="157.75" fill="#fff" stroke="#000" stroke-width="2.3"/>
<rect x="321.15" y="451.85" width="16.5" height="220.15" fill="#000"/>
<rect x="336.55" y="543.65" width="14.5" height="128.35" fill="#fff" stroke="#000" stroke-width="2.3"/>
<rect x="356.00" y="494.55" width="16.5" height="177.45" fill="#000"/>
<rect x="371.40" y="619.95" width="14.5" height="52.05" fill="#fff" stroke="#000" stroke-width="2.3"/>
<path d="M145.3,672.0V447.4H389.5V672.0" fill="none" stroke="#000" stroke-width="2.8"/>
<line x1="139.3" y1="672.0" x2="390.9" y2="672.0" stroke="#000" stroke-width="3"/>
<path d="M139.3,616.00H145.3M139.3,560.00H145.3M139.3,504.00H145.3M139.3,448.00H145.3M162.70,672.0v5.6M197.55,672.0v5.6M232.40,672.0v5.6M267.25,672.0v5.6M302.10,672.0v5.6M336.95,672.0v5.6M371.80,672.0v5.6" stroke="#000" stroke-width="2.7" fill="none"/>
<text x="135.6" y="678.2" font-size="16.5" text-anchor="end" fill="#000">0</text>
<text x="135.6" y="622.2" font-size="16.5" text-anchor="end" fill="#000">16</text>
<text x="135.6" y="566.2" font-size="16.5" text-anchor="end" fill="#000">32</text>
<text x="135.6" y="510.2" font-size="16.5" text-anchor="end" fill="#000">48</text>
<text x="135.6" y="454.2" font-size="16.5" text-anchor="end" fill="#000">64</text>
<text transform="translate(169.7,683.6) rotate(-90)" font-size="16.2" text-anchor="end" fill="#000">wt hFPN</text>
<text transform="translate(204.5,683.6) rotate(-90)" font-size="16.2" text-anchor="end" fill="#000">wt mFPN</text>
<text transform="translate(239.3,683.6) rotate(-90)" font-size="16.2" text-anchor="end" fill="#000">C326Y</text>
<text transform="translate(274.1,683.6) rotate(-90)" font-size="16.2" text-anchor="end" fill="#000">Y64N</text>
<text transform="translate(308.9,683.6) rotate(-90)" font-size="16.2" text-anchor="end" fill="#000">N144D</text>
<text transform="translate(343.7,683.6) rotate(-90)" font-size="16.2" text-anchor="end" fill="#000">N144H</text>
<text transform="translate(378.5,683.6) rotate(-90)" font-size="16.2" text-anchor="end" fill="#000">Q248H</text>
<text transform="translate(83.6,560) rotate(-90)" font-size="16.7" text-anchor="middle" fill="#111">Surface TfR expression</text>
<text transform="translate(102.2,563) rotate(-90)" font-size="16.4" text-anchor="middle" fill="#111">(MFI - MFI of control cells)</text>
<rect x="400.2" y="522.8" width="12.6" height="12.4" fill="#000"/>
<text x="423" y="533.8" font-size="16.4" fill="#000">no Hep</text>
<rect x="401.4" y="565.2" width="10.2" height="10.3" fill="#fff" stroke="#000" stroke-width="2.4"/>
<text x="423" y="568" font-size="16.4" fill="#000">0.5µM</text>
<text x="423" y="584" font-size="16.4" fill="#000">Hep-25</text>
</g>
<g id="panelD">
<line x1="173.1" y1="817.1" x2="173.1" y2="1080.9" stroke="#8a8686" stroke-width="1.5"/>
<line x1="253.2" y1="817.1" x2="253.2" y2="1080.9" stroke="#8a8686" stroke-width="1.5"/>
<line x1="333.6" y1="817.1" x2="333.6" y2="1080.9" stroke="#8a8686" stroke-width="1.5"/>
<line x1="413.7" y1="817.1" x2="413.7" y2="1080.9" stroke="#8a8686" stroke-width="1.5"/>
<line x1="92.8" y1="817.1" x2="494.6" y2="817.1" stroke="#777070" stroke-width="1.6"/>
<line x1="493.8" y1="816.6" x2="493.8" y2="1081.9" stroke="#6e6868" stroke-width="2.6"/>
<line x1="92.8" y1="816.3000000000001" x2="92.8" y2="1081.9" stroke="#2f2628" stroke-width="1.9"/>
<line x1="88.39999999999999" y1="1081.0" x2="495.1" y2="1081.0" stroke="#3a2c2d" stroke-width="2.0"/>
<path d="M88.39999999999999,1047.93H92.8M88.39999999999999,1014.95H92.8M88.39999999999999,981.98H92.8M88.39999999999999,949.00H92.8M88.39999999999999,916.03H92.8M88.39999999999999,883.05H92.8M88.39999999999999,850.08H92.8M88.39999999999999,817.10H92.8" stroke="#2f2628" stroke-width="1.6" fill="none"/>
<text x="81.4" y="1086.4" font-size="16.2" text-anchor="end" fill="#111">0</text>
<text x="81.4" y="1053.4" font-size="16.2" text-anchor="end" fill="#111">20</text>
<text x="81.4" y="1020.5" font-size="16.2" text-anchor="end" fill="#111">40</text>
<text x="81.4" y="987.5" font-size="16.2" text-anchor="end" fill="#111">60</text>
<text x="81.4" y="954.5" font-size="16.2" text-anchor="end" fill="#111">80</text>
<text x="81.4" y="921.5" font-size="16.2" text-anchor="end" fill="#111">100</text>
<text x="81.4" y="888.6" font-size="16.2" text-anchor="end" fill="#111">120</text>
<text x="81.4" y="855.6" font-size="16.2" text-anchor="end" fill="#111">140</text>
<text x="81.4" y="822.6" font-size="16.2" text-anchor="end" fill="#111">160</text>
<text transform="translate(36.0,944) rotate(-90)" font-size="16.25" text-anchor="middle" fill="#111">Ferritin ng/10e7 cells (+/- 95% conf. int.)</text>
<text x="138.6" y="1100" font-size="16.3" text-anchor="middle" fill="#111">CD8</text>
<text x="213.8" y="1100" font-size="16.3" text-anchor="middle" fill="#111">wtFPN</text>
<text x="296.5" y="1100" font-size="16.3" text-anchor="middle" fill="#111">wtFPN+hep</text>
<text x="377.2" y="1100" font-size="16.3" text-anchor="middle" fill="#111">C326Y</text>
<text x="458" y="1100" font-size="16.3" text-anchor="middle" fill="#111">C326Y+hep</text>
<rect x="116.0" y="885.0" width="33.6" height="8.6" fill="#c90f30"/>
<path d="M132.8,839.4V938.2" stroke="#0a0a0a" stroke-width="2.6" fill="none"/>
<path d="M129.5,839.4h6.6M129.5,938.2h6.6" stroke="#0a0a0a" stroke-width="2.6" fill="none"/>
<circle cx="132.8" cy="908.3" r="3.9" fill="#0d0a05" stroke="#e8d21a" stroke-width="1.2"/>
<circle cx="132.8" cy="890.6" r="3.9" fill="#0d0a05" stroke="#fff" stroke-width="1.2"/>
<circle cx="132.8" cy="868.5" r="4.4" fill="#fff" opacity="0.85"/>
<circle cx="132.8" cy="868.5" r="3.6" fill="#0a0a0a"/>
<rect x="196.0" y="1013.0" width="33.6" height="8.8" fill="#c90f30"/>
<path d="M212.8,990.8V1044.0" stroke="#0a0a0a" stroke-width="2.6" fill="none"/>
<path d="M209.5,990.8h6.6M209.5,1044.0h6.6" stroke="#0a0a0a" stroke-width="2.6" fill="none"/>
<circle cx="212.8" cy="1015.6" r="3.9" fill="#0d0a05" stroke="#f39a1d" stroke-width="1.2"/>
<circle cx="212.8" cy="1009.7" r="4.4" fill="#fff" opacity="0.85"/>
<circle cx="212.8" cy="1009.7" r="3.6" fill="#0a0a0a"/>
<circle cx="212.8" cy="1029.6" r="4.4" fill="#fff" opacity="0.85"/>
<circle cx="212.8" cy="1029.6" r="3.6" fill="#0a0a0a"/>
<rect x="276.5" y="890.0" width="33.6" height="8.8" fill="#c90f30"/>
<path d="M293.3,853.4V934.4" stroke="#0a0a0a" stroke-width="2.6" fill="none"/>
<path d="M290.0,853.4h6.6M290.0,934.4h6.6" stroke="#0a0a0a" stroke-width="2.6" fill="none"/>
<circle cx="293.3" cy="892.7" r="3.9" fill="#0d0a05" stroke="#f39a1d" stroke-width="1.2"/>
<circle cx="293.3" cy="879.7" r="4.4" fill="#fff" opacity="0.85"/>
<circle cx="293.3" cy="879.7" r="3.6" fill="#0a0a0a"/>
<circle cx="293.3" cy="911.7" r="4.4" fill="#fff" opacity="0.85"/>
<circle cx="293.3" cy="911.7" r="3.6" fill="#0a0a0a"/>
<rect x="356.8" y="975.7" width="33.6" height="8.8" fill="#c90f30"/>
<path d="M373.6,937.0V1022.0" stroke="#0a0a0a" stroke-width="2.6" fill="none"/>
<path d="M370.3,937.0h6.6M370.3,1022.0h6.6" stroke="#0a0a0a" stroke-width="2.6" fill="none"/>
<circle cx="373.6" cy="966.4" r="3.9" fill="#0d0a05" stroke="#e8d21a" stroke-width="1.2"/>
<circle cx="373.6" cy="974.2" r="3.9" fill="#0d0a05" stroke="#fff" stroke-width="1.2"/>
<circle cx="373.6" cy="999.3" r="4.4" fill="#fff" opacity="0.85"/>
<circle cx="373.6" cy="999.3" r="3.6" fill="#0a0a0a"/>
<rect x="437.0" y="977.2" width="33.6" height="8.8" fill="#c90f30"/>
<path d="M453.8,962.0V1000.0" stroke="#0a0a0a" stroke-width="2.6" fill="none"/>
<path d="M450.5,962.0h6.6M450.5,1000.0h6.6" stroke="#0a0a0a" stroke-width="2.6" fill="none"/>
<circle cx="453.8" cy="982.6" r="3.9" fill="#0d0a05" stroke="#e9b517" stroke-width="1.2"/>
<circle cx="453.8" cy="973.3" r="4.4" fill="#fff" opacity="0.85"/>
<circle cx="453.8" cy="973.3" r="3.6" fill="#0a0a0a"/>
<circle cx="453.8" cy="989.6" r="4.4" fill="#fff" opacity="0.85"/>
<circle cx="453.8" cy="989.6" r="3.6" fill="#0a0a0a"/>
</g>
</svg>
</body></html>
